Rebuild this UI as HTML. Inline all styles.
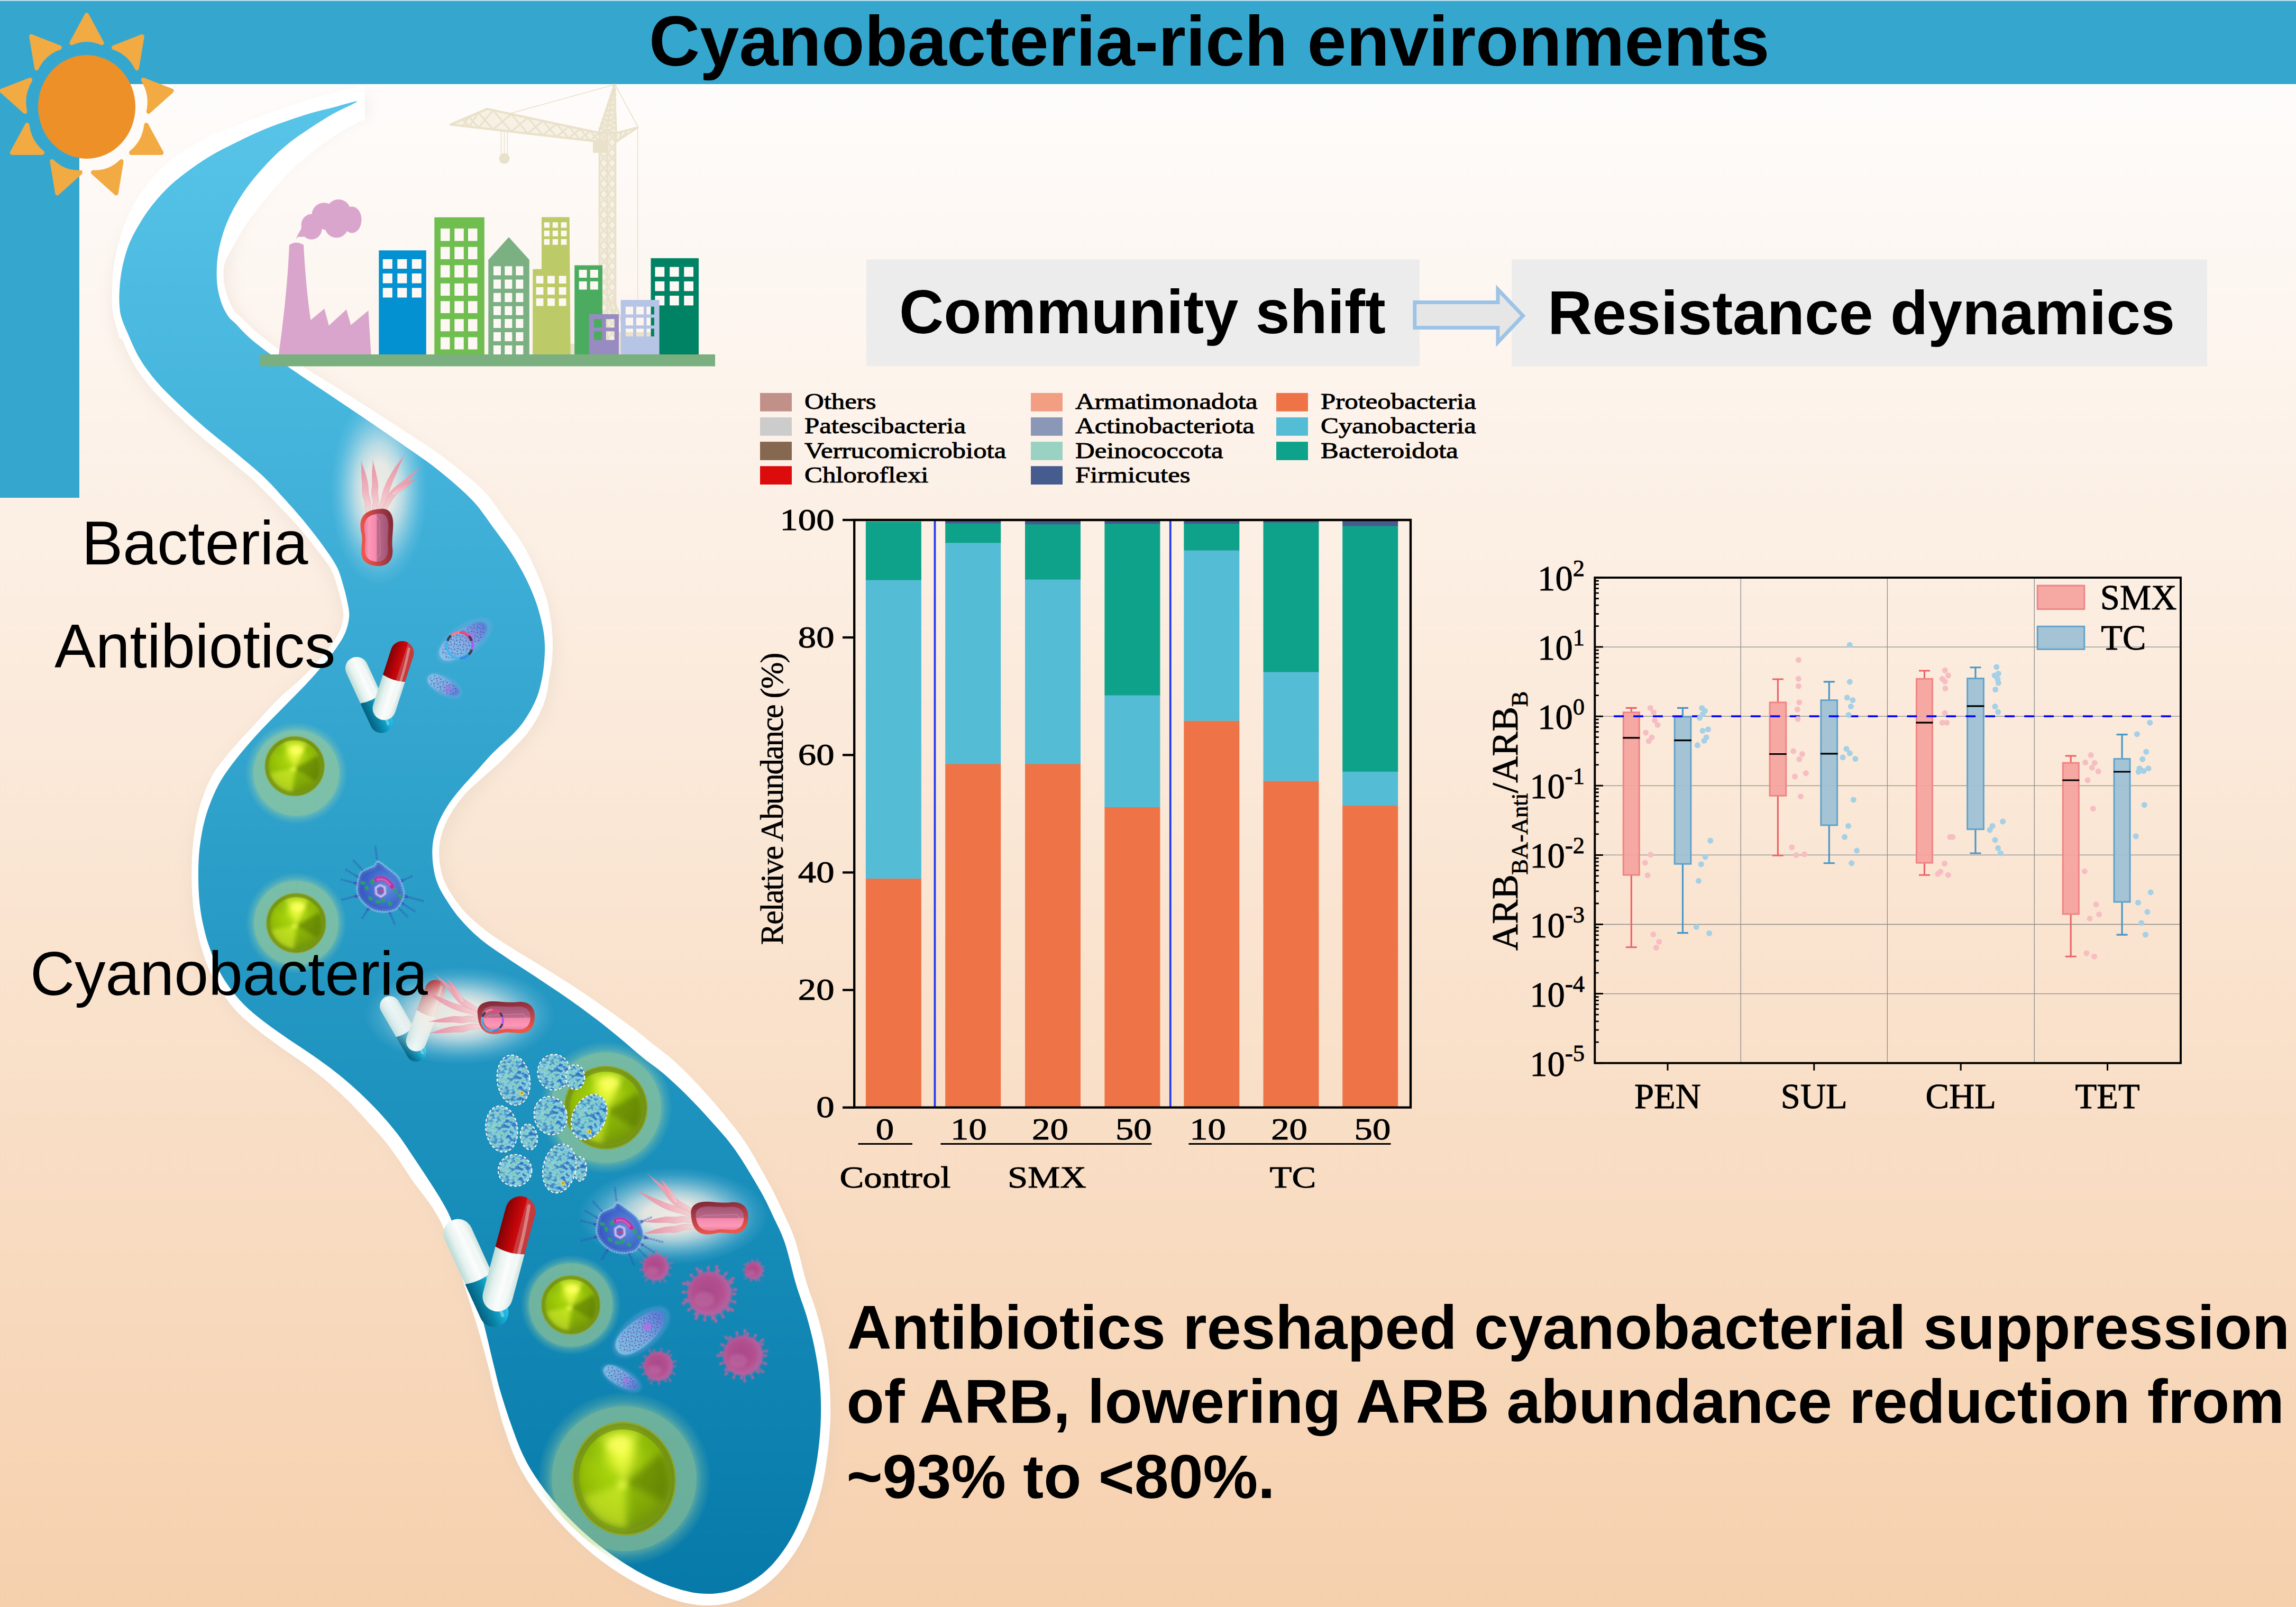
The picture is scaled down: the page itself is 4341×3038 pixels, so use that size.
<!DOCTYPE html>
<html><head><meta charset="utf-8"><title>Cyanobacteria-rich environments</title>
<style>
html,body{margin:0;padding:0;background:#fff;overflow:hidden}
svg{display:block}
.sb{font-family:"Liberation Sans",sans-serif;font-weight:bold;fill:#000}
.sr{font-family:"Liberation Sans",sans-serif;fill:#000}
.se{font-family:"Liberation Serif",serif;fill:#000}
</style></head><body>
<svg width="4341" height="3038" viewBox="0 0 4341 3038">
<defs>
<linearGradient id="bg" x1="0" y1="0" x2="0" y2="1"><stop offset="0" stop-color="#FEFCFB"/><stop offset="1" stop-color="#F6D0AD"/></linearGradient>
<linearGradient id="riv" gradientUnits="userSpaceOnUse" x1="0" y1="190" x2="0" y2="3020"><stop offset="0" stop-color="#58C4E8"/><stop offset="0.25" stop-color="#42B2DA"/><stop offset="0.5" stop-color="#2C9FC9"/><stop offset="0.75" stop-color="#168CB9"/><stop offset="1" stop-color="#0679A8"/></linearGradient>
<filter id="rshadow" x="-5%" y="-5%" width="110%" height="110%"><feGaussianBlur stdDeviation="14"/></filter>

<path id="rivp" d="M675.3,191.8C675.3,189.6 643.4,199.6 626.5,204C609.6,208.4 595.3,211.2 574.2,218C553.1,224.8 523.5,234.8 500,244.5C476.5,254.2 451.4,266.8 433,276C414.6,285.2 404,290.9 389.5,300C375,309.1 358.7,320.8 346,330.6C333.3,340.4 323.5,348.8 313.3,359C303.1,369.2 293.4,380.7 285,391.6C276.6,402.5 269.7,413.3 263.2,424.2C256.7,435.1 250.5,446.1 245.8,457C241.1,467.9 237.9,478.7 235,489.5C232.1,500.3 230,511.1 228.4,522C226.8,532.9 226,545.2 225.6,555C225.2,564.8 225.5,573.5 226.2,581C226.8,588.5 227.3,592.5 229.5,600C231.7,607.5 233.8,612.8 239.6,625.7C245.3,638.6 254.3,661.3 264,677.6C273.7,693.9 284.4,708.1 297.6,723.3C310.8,738.5 327.1,753.8 343.3,769C359.6,784.2 378.3,800.6 395.1,814.8C411.9,829 427.2,840.5 443.9,854.4C460.5,868.3 479.8,883.7 495,898C510.2,912.3 522.2,926 535,940C547.8,954 559.8,967.3 572,982C584.2,996.7 597.3,1013.3 608,1028C618.7,1042.7 629.3,1057.5 636,1070C642.7,1082.5 644.5,1091.5 648,1103C651.5,1114.5 655,1128.4 657,1139C659,1149.6 660.9,1156.9 660.1,1166.6C659.3,1176.3 656.7,1186.9 652.4,1197.1C648.1,1207.3 641.2,1217.4 634.1,1227.6C627,1237.8 619,1247.3 610,1258C601,1268.7 592.2,1279 580,1292C567.8,1305 551.7,1321 537,1336C522.3,1351 506.2,1366.7 492,1382C477.8,1397.3 464.3,1412.5 452,1428C439.7,1443.5 427.2,1459.5 418,1475C408.8,1490.5 402.2,1506.3 396.5,1521C390.8,1535.7 387.2,1548.7 384,1563C380.8,1577.3 378.5,1593 377,1607C375.5,1621 375.2,1633.2 375,1647C374.8,1660.8 375.2,1676.7 376,1690C376.8,1703.3 378.2,1715.3 380,1727C381.8,1738.7 384.5,1750.1 386.9,1760C389.3,1769.9 390.7,1775.6 394.5,1786.6C398.3,1797.6 403.7,1813.5 409.8,1826.2C415.9,1838.9 422.5,1850.6 431.1,1862.8C439.7,1875 449.9,1887.7 461.6,1899.4C473.3,1911.1 487.5,1922.2 501.2,1932.9C514.9,1943.6 529.2,1953.2 543.9,1963.4C558.6,1973.6 574.4,1983.2 589.6,1993.9C604.9,2004.6 620.7,2015.7 635.4,2027.4C650.1,2039.1 664.3,2051.3 678,2064C691.7,2076.7 705.5,2090.5 717.7,2103.7C729.9,2116.9 741,2130.1 751.2,2143.3C761.4,2156.5 770.1,2170.2 778.7,2182.9C787.3,2195.6 794.1,2205.8 803,2219.5C811.9,2233.2 823.8,2251.1 832,2265C840.2,2278.9 845.3,2287.2 852,2303C858.7,2318.8 866.2,2343 872,2360C877.8,2377 882.3,2390 887,2405C891.7,2420 895.2,2432.8 900,2450C904.8,2467.2 910.4,2486.2 916,2508C921.6,2529.8 928.5,2560.7 933.5,2581C938.5,2601.3 940.6,2611.5 946,2630C951.4,2648.5 958.7,2671.5 966,2692C973.3,2712.5 981,2734.5 990,2753C999,2771.5 1008.3,2786.3 1020,2803C1031.7,2819.7 1045.8,2837.2 1060,2853C1074.2,2868.8 1089.2,2883.8 1105,2898C1120.8,2912.2 1137.5,2925.5 1155,2938C1172.5,2950.5 1191.7,2963 1210,2973C1228.3,2983 1246.7,2991.5 1265,2998C1283.3,3004.5 1302.5,3010 1320,3012C1337.5,3014 1354.2,3013.2 1370,3010C1385.8,3006.8 1400.8,3000.8 1415,2993C1429.2,2985.2 1442.5,2975.5 1455,2963C1467.5,2950.5 1480,2933.8 1490,2918C1500,2902.2 1507.5,2886.3 1515,2868C1522.5,2849.7 1529.7,2828.8 1535,2808C1540.3,2787.2 1544.2,2764.7 1547,2743C1549.8,2721.3 1551.5,2699.7 1552,2678C1552.5,2656.3 1552,2634.7 1550,2613C1548,2591.3 1544.2,2568.8 1540,2548C1535.8,2527.2 1530.8,2508 1525,2488C1519.2,2468 1511.8,2451 1505,2428C1498.2,2405 1491.2,2371.3 1484,2350C1476.8,2328.7 1469.8,2316.7 1462,2300C1454.2,2283.3 1449,2271 1437,2250C1425,2229 1405.3,2195.7 1390,2174C1374.7,2152.3 1360,2137 1345,2120C1330,2103 1315,2087 1300,2072C1285,2057 1269,2042 1255,2030C1241,2018 1229.3,2010.8 1216,2000C1202.7,1989.2 1190.2,1977.5 1175,1965C1159.8,1952.5 1142.5,1938.3 1125,1925C1107.5,1911.7 1088.3,1897.8 1070,1885C1051.7,1872.2 1033.3,1860.2 1015,1848C996.7,1835.8 977.8,1824.2 960,1812C942.2,1799.8 923.3,1787.8 908,1775C892.7,1762.2 879.3,1748.3 868,1735C856.7,1721.7 847.2,1706.8 840,1695C832.8,1683.2 828.6,1674.9 825,1664C821.4,1653.1 819.3,1641 818.2,1629.5C817.1,1618 816.8,1606.4 818.2,1595C819.6,1583.6 822.5,1572.4 826.8,1561C831.1,1549.6 836.9,1538.1 844,1526.7C851.1,1515.3 860.2,1503.9 869.6,1492.5C879,1481.1 890.1,1469.6 900.4,1458.2C910.7,1446.8 921.2,1434.2 931.2,1424C941.2,1413.8 951.6,1405.5 960.3,1397C969,1388.5 976,1382 983.2,1373C990.4,1364 997.7,1352.6 1003.3,1342.7C1008.9,1332.8 1013.1,1324 1016.8,1313.6C1020.4,1303.1 1023.2,1290.6 1025.2,1280C1027.2,1269.4 1028.2,1260.2 1029,1250C1029.8,1239.8 1030.5,1229.3 1030,1218.5C1029.5,1207.7 1028.7,1198.1 1026,1185C1023.3,1171.9 1019.3,1155.3 1014,1140C1008.7,1124.7 1002,1109 994,1093C986,1077 976.2,1059.8 966,1044C955.8,1028.2 944.5,1013.7 933,998C921.5,982.3 910.5,965 897,950C883.5,935 866.8,920.8 852,908C837.2,895.2 825.2,885.7 808,873C790.8,860.3 769,845.8 749,832C729,818.2 708.3,803.8 688,790C667.7,776.2 647.3,762.7 627,749C606.7,735.3 583.8,720.2 566,708C548.2,695.8 535.3,687.2 520,676C504.7,664.8 487.1,651.9 474.4,641C461.7,630.1 450.9,617.3 444,610.5C437.1,603.7 436.7,604.9 433,600C429.3,595.1 425.1,587.8 422,581C418.9,574.2 416.6,567 414.6,559C412.6,551 410.9,542.8 410.2,533C409.5,523.2 409.5,510.8 410.2,500C410.9,489.2 412.2,479.2 414.6,468C417,456.8 420.6,443.9 424.4,433C428.2,422.1 432.4,412.6 437.5,402.4C442.6,392.2 448.5,382.1 455,372C461.5,361.9 467.6,352.8 476.7,341.5C485.8,330.2 498.4,315.6 509.3,304.4C520.2,293.1 531.1,283.1 542,274C552.9,264.9 560.6,259.5 574.7,250C588.8,240.5 609.7,226.7 626.5,217C643.3,207.3 675.3,194 675.3,191.8Z"/>
<clipPath id="cRiv"><use href="#rivp"/></clipPath>
<clipPath id="cRivW"><use href="#rivp" transform="translate(-8,3)"/><use href="#rivp" transform="translate(8,-3)"/><use href="#rivp" transform="translate(-5,-7)"/><use href="#rivp" transform="translate(5,7)"/></clipPath>

<radialGradient id="gSph" cx="0.5" cy="0.42" r="0.62" fx="0.52" fy="0.22">
 <stop offset="0" stop-color="#F2FF4A"/><stop offset="0.16" stop-color="#CDEB22"/><stop offset="0.42" stop-color="#9CCB0C"/><stop offset="0.75" stop-color="#86B008"/><stop offset="1" stop-color="#6E9010"/>
</radialGradient>
<radialGradient id="gHalo" cx="0.5" cy="0.5" r="0.5">
 <stop offset="0" stop-color="#BFDA8B" stop-opacity="0.53"/><stop offset="0.825" stop-color="#BFDA8B" stop-opacity="0.53"/><stop offset="0.84" stop-color="#BEDE98" stop-opacity="0.38"/><stop offset="0.9" stop-color="#BCDE9C" stop-opacity="0.2"/><stop offset="1" stop-color="#BCDE9C" stop-opacity="0"/>
</radialGradient>
<radialGradient id="gGlow" cx="0.5" cy="0.5" r="0.5">
 <stop offset="0" stop-color="#F4EDE4" stop-opacity="0.97"/><stop offset="0.3" stop-color="#F2ECE4" stop-opacity="0.93"/><stop offset="0.5" stop-color="#E6EBE8" stop-opacity="0.7"/><stop offset="0.7" stop-color="#D2E6EA" stop-opacity="0.38"/><stop offset="0.86" stop-color="#C0E2EE" stop-opacity="0.14"/><stop offset="1" stop-color="#C0E2EE" stop-opacity="0"/>
</radialGradient>
<linearGradient id="gCapW" x1="0" y1="0" x2="1" y2="0">
 <stop offset="0" stop-color="#B9DAD5"/><stop offset="0.25" stop-color="#E4F1EE"/><stop offset="0.55" stop-color="#FBFDFC"/><stop offset="0.85" stop-color="#E9F3F1"/><stop offset="1" stop-color="#CFE3DF"/>
</linearGradient>
<linearGradient id="gCapB" x1="0" y1="0" x2="1" y2="0">
 <stop offset="0" stop-color="#04607F"/><stop offset="0.4" stop-color="#0A86AA"/><stop offset="0.8" stop-color="#18B4DC"/><stop offset="1" stop-color="#22C8F0"/>
</linearGradient>
<linearGradient id="gCapR" x1="0" y1="0" x2="1" y2="0">
 <stop offset="0" stop-color="#7E0205"/><stop offset="0.35" stop-color="#B40408"/><stop offset="0.6" stop-color="#CC0A0E"/><stop offset="0.62" stop-color="#C83C3E"/><stop offset="1" stop-color="#C43A3C"/>
</linearGradient>
<linearGradient id="gBacIn" x1="0" y1="0" x2="0" y2="1">
 <stop offset="0" stop-color="#A25476"/><stop offset="0.46" stop-color="#BA6A8A"/><stop offset="0.5" stop-color="#F488AC"/><stop offset="0.8" stop-color="#FC98B8"/><stop offset="1" stop-color="#E87A9A"/>
</linearGradient>
<linearGradient id="gBacOut" x1="0" y1="0" x2="0.22" y2="1">
 <stop offset="0" stop-color="#7A2636"/><stop offset="0.45" stop-color="#AC3C46"/><stop offset="1" stop-color="#EE5648"/>
</linearGradient>
<linearGradient id="gFlag" x1="0" y1="0" x2="1" y2="0">
 <stop offset="0" stop-color="#E8869C"/><stop offset="0.55" stop-color="#F0AEBA"/><stop offset="1" stop-color="#F6D4D6" stop-opacity="0.85"/>
</linearGradient>
<radialGradient id="gVir" cx="0.45" cy="0.45" r="0.55">
 <stop offset="0" stop-color="#A9478A"/><stop offset="0.6" stop-color="#B2508F"/><stop offset="0.9" stop-color="#B860A0"/><stop offset="1" stop-color="#B860A0" stop-opacity="0.7"/>
</radialGradient>
<radialGradient id="gSpk" cx="0.62" cy="0.5" r="0.62">
 <stop offset="0" stop-color="#5E92DC"/><stop offset="0.45" stop-color="#4672D0"/><stop offset="1" stop-color="#3450BC"/>
</radialGradient>
<linearGradient id="gPar" x1="0" y1="0" x2="1" y2="0">
 <stop offset="0" stop-color="#90CCEC"/><stop offset="0.55" stop-color="#84B2E4"/><stop offset="1" stop-color="#5E74D8"/>
</linearGradient>
<pattern id="pCell" patternUnits="userSpaceOnUse" width="14" height="14">
 <rect width="14" height="14" fill="#62B4CC"/>
 <path d="M0,3 q2,-3 4,0 t4,0 M7,9 q2,3 4,0 M1,11 q1.5,-2 3,0 M9,2 l3,2 M3,6 l3,2" stroke="#2F78BE" stroke-width="1.6" fill="none"/>
 <path d="M5,1 l2,2 M10,6 q1.5,2 3,0 M0,8 l3,1 M6,12 l3,1 M11,11 l2,-2" stroke="#8FD6E8" stroke-width="1.5" fill="none"/>
 <path d="M2,1 l1,1 M8,5 l2,0 M4,9 l1,2 M12,13 l1,0" stroke="#7CC8A8" stroke-width="1.6" fill="none"/>
</pattern>
<pattern id="pDots" patternUnits="userSpaceOnUse" width="15" height="12">
 <rect x="1" y="1.5" width="2.6" height="2.4" fill="#5E34A6"/><rect x="7.5" y="4.5" width="3.2" height="2.2" fill="#6C38AC"/><rect x="3.5" y="8" width="2.2" height="2.2" fill="#5638A4"/><rect x="11.5" y="0.5" width="2" height="2" fill="#7444B4"/><rect x="11" y="8.5" width="2.4" height="1.8" fill="#6236A8"/>
</pattern>
<filter id="fCell" x="-2%" y="-2%" width="104%" height="104%" color-interpolation-filters="sRGB">
 <feTurbulence type="fractalNoise" baseFrequency="0.11 0.15" numOctaves="2" seed="7" result="n"/>
 <feColorMatrix in="n" type="matrix" values="1 0 0 0 0  1 0 0 0 0  1 0 0 0 0  0 0 0 0 1" result="g"/>
 <feComponentTransfer in="g" result="c">
  <feFuncR type="table" tableValues="0.18 0.18 0.18 0.20 0.33 0.58 0.50 0.45 0.45 0.45"/>
  <feFuncG type="table" tableValues="0.43 0.43 0.43 0.47 0.64 0.84 0.78 0.75 0.75 0.75"/>
  <feFuncB type="table" tableValues="0.73 0.73 0.73 0.75 0.83 0.92 0.72 0.66 0.66 0.66"/>
 </feComponentTransfer>
 <feComposite in="c" in2="SourceGraphic" operator="in"/>
</filter>
<filter id="fB08" x="-20%" y="-20%" width="140%" height="140%"><feGaussianBlur stdDeviation="0.8"/></filter>
<filter id="fB1" x="-20%" y="-20%" width="140%" height="140%"><feGaussianBlur stdDeviation="1.1"/></filter>
<filter id="fBv" x="-20%" y="-20%" width="140%" height="140%"><feGaussianBlur stdDeviation="1.7"/></filter>
<filter id="fB2" x="-20%" y="-20%" width="140%" height="140%"><feGaussianBlur stdDeviation="2.2"/></filter>
<filter id="fB4" x="-30%" y="-30%" width="160%" height="160%"><feGaussianBlur stdDeviation="5"/></filter>
<filter id="fBu" x="-30%" y="-30%" width="160%" height="160%"><feGaussianBlur stdDeviation="0.07"/></filter>
<filter id="fBu2" x="-50%" y="-50%" width="200%" height="200%"><feGaussianBlur stdDeviation="0.06"/></filter>
<clipPath id="cUnit"><circle cx="0" cy="0" r="1"/></clipPath>

<pattern id="lat" patternUnits="userSpaceOnUse" x="1134" y="250" width="31" height="19.5">
<rect width="31" height="19.5" fill="#F6F1E4"/>
<path d="M0,0 L15.5,19.5 M15.5,0 L0,19.5 M15.5,0 L31,19.5 M31,0 L15.5,19.5" stroke="#E9E1CA" stroke-width="3.4" fill="none"/>
<path d="M0,9.75 H31" stroke="#EFE9D8" stroke-width="1.5"/>
</pattern>
<pattern id="lat2" patternUnits="userSpaceOnUse" x="0" y="0" width="22" height="60">
<rect width="22" height="60" fill="#F6F1E4"/>
<path d="M0,0 L22,60 M22,0 L0,60" stroke="#E9E1CA" stroke-width="4.5" fill="none"/>
</pattern>
</defs>
<rect x="0" y="0" width="4341" height="3038" fill="url(#bg)"/>
<rect x="0" y="158" width="4341" height="2880" fill="url(#bg)"/>
<rect x="0" y="0" width="4341" height="159" fill="#35A7CF"/>
<rect x="0" y="0" width="150" height="941" fill="#35A7CF"/>
<rect x="0" y="0" width="4341" height="1.6" fill="#fff" opacity="0.8"/>
<use href="#rivp" fill="#d8c8b8" stroke="#d8c8b8" stroke-width="40" stroke-linejoin="round" opacity="0.28" filter="url(#rshadow)" transform="translate(4,8)"/>
<path d="M687.3,191.8C685.8,186 643,189.9 623.5,192.4C604,194.8 591.9,199.7 570.5,206.6C549.2,213.4 519.3,223.6 495.4,233.4C471.6,243.2 446.3,255.9 427.6,265.2C408.9,274.6 397.9,280.4 383.1,289.7C368.2,299 351.7,311 338.6,321.1C325.6,331.2 315.3,340 304.8,350.5C294.3,361 284.1,373 275.5,384.3C266.8,395.5 259.7,406.7 252.8,418C245.9,429.3 239.2,440.6 234.2,452C229.1,463.3 225.6,474.8 222.5,486.1C219.3,497.5 217.2,508.8 215.5,520.2C213.9,531.5 213,544.2 212.6,554.5C212.2,564.8 212.5,573.9 213.2,582.1C214,590.3 214.6,595.6 217,603.7C219.4,611.9 221.9,617.5 227.7,631C233.5,644.5 242.2,667.7 252,684.8C261.7,701.8 272.9,717.1 286.3,733.1C299.7,749.1 316,764.9 332.4,780.7C348.7,796.4 367.3,813.3 384.1,827.8C400.9,842.2 416.5,853.7 433,867.5C449.6,881.2 468.3,896.5 483.4,910.4C498.4,924.3 510.2,937.4 523.2,950.8C536.2,964.2 548.8,976.8 561.2,990.9C573.6,1005.1 586.6,1021.6 597.5,1035.6C608.3,1049.7 619.6,1063.4 626.3,1075.2C633,1086.9 634.4,1095.1 637.8,1106.1C641.3,1117 645.1,1130.9 647.2,1140.9C649.2,1150.8 650.8,1157.1 650.1,1165.8C649.5,1174.5 647.2,1183.8 643.2,1193.2C639.1,1202.5 632.8,1212.3 625.9,1221.9C618.9,1231.5 610.7,1240.6 601.5,1250.8C592.2,1261 583.3,1270.9 570.5,1283.1C557.7,1295.3 539.8,1309.4 524.9,1324.1C509.9,1338.9 495.2,1356.2 480.9,1371.7C466.6,1387.3 452,1401.9 438.9,1417.6C425.8,1433.2 412.1,1449.5 402.5,1465.8C393,1482.1 386.9,1499.5 381.6,1515.2C376.3,1530.9 373.6,1544.9 370.8,1560C368.1,1575.1 366.3,1591.2 365.1,1605.7C363.8,1620.2 363.5,1632.7 363.4,1646.9C363.3,1661 363.6,1677.1 364.4,1690.7C365.2,1704.4 366.4,1716.8 368.1,1728.8C369.9,1740.9 372.5,1752.6 374.8,1763C377,1773.3 378.2,1779.4 381.7,1791C385.3,1802.6 390.2,1819.2 396.3,1832.7C402.3,1846.2 409.3,1858.8 418,1872C426.8,1885.3 437,1899.5 448.9,1912.1C460.8,1924.8 475.6,1936.6 489.5,1947.9C503.5,1959.2 517.9,1969.3 532.5,1979.9C547.2,1990.4 562.8,2000.2 577.6,2011.1C592.3,2022 607.2,2033.6 621.1,2045.4C635,2057.3 648.2,2069.6 661,2082.3C673.8,2095.1 686.3,2109.2 697.9,2122C709.5,2134.8 720.6,2146.7 730.6,2159.2C740.6,2171.7 749.5,2184.6 758,2197C766.6,2209.3 772.7,2220 782,2233.1C791.3,2246.2 805.1,2262.8 813.9,2275.6C822.6,2288.5 827.4,2295.4 834.5,2310.4C841.6,2325.3 850.2,2348.8 856.6,2365.3C863,2381.8 867.7,2394.7 872.7,2409.5C877.7,2424.2 881.2,2436.9 886.5,2453.8C891.8,2470.7 898.1,2489.4 904.4,2511C910.7,2532.6 919,2562.9 924.3,2583.3C929.5,2603.6 931.1,2614.1 935.9,2633C940.8,2651.8 946.5,2675.4 953.3,2696.5C960.1,2717.6 967.6,2740.3 976.5,2759.6C985.4,2778.8 995.1,2794.7 1006.9,2812.2C1018.7,2829.6 1033,2847.8 1047.3,2864.3C1061.6,2880.9 1076.8,2896.7 1092.8,2911.7C1108.8,2926.7 1125.4,2941.1 1143.4,2954.3C1161.3,2967.4 1181.3,2980 1200.4,2990.6C1219.5,3001.1 1238.5,3010.7 1258,3017.7C1277.5,3024.8 1298.3,3030.7 1317.6,3032.9C1337,3035 1356.3,3034.3 1374.1,3030.6C1392,3026.9 1409,3019.6 1424.7,3010.6C1440.5,3001.6 1454.9,2990.2 1468.5,2976.5C1482,2962.7 1495.4,2945 1506.1,2928.1C1516.7,2911.3 1524.8,2894.5 1532.6,2875.2C1540.3,2855.9 1547.4,2834.2 1552.7,2812.5C1557.9,2790.9 1561.2,2767.6 1563.9,2745.2C1566.6,2722.9 1568.5,2700.7 1569,2678.4C1569.5,2656.1 1568.8,2633.8 1567.1,2611.4C1565.3,2589.1 1562.5,2565.7 1558.5,2544.3C1554.6,2522.8 1549.1,2503 1543.2,2482.7C1537.4,2462.4 1530.1,2445.7 1523.2,2422.6C1516.4,2399.5 1509.3,2365.8 1502,2343.9C1494.8,2322.1 1487.6,2309 1479.7,2291.7C1471.7,2274.4 1466.2,2261.9 1454.4,2240.1C1442.5,2218.2 1423.8,2183.6 1408.8,2160.7C1393.8,2137.9 1379.1,2121 1364.3,2103C1349.5,2084.9 1334.8,2068.2 1319.8,2052.2C1304.8,2036.2 1288.6,2019.9 1274.6,2007.2C1260.5,1994.5 1249,1986.7 1235.5,1975.9C1222.1,1965.1 1209.4,1954.4 1193.6,1942.4C1177.8,1930.5 1159.1,1917.1 1140.8,1904.3C1122.4,1891.5 1102.6,1877.9 1083.7,1865.4C1064.8,1853 1045.9,1841.3 1027.2,1829.7C1008.4,1818 989.1,1807.1 971.2,1795.7C953.2,1784.2 934.9,1772.9 919.6,1761.2C904.2,1749.5 890.4,1737.8 879,1725.7C867.6,1713.5 858.1,1699.2 851.1,1688.3C844.1,1677.3 840.3,1670.1 836.8,1660.1C833.3,1650.1 831.3,1638.9 830.1,1628.3C829,1617.7 828.8,1607 830.1,1596.5C831.4,1586 834,1575.8 838,1565.2C842,1554.7 847.4,1543.9 854.2,1533.1C861,1522.2 869.2,1510.8 878.9,1500.1C888.5,1489.4 901.1,1479.1 912.3,1468.9C923.5,1458.7 936,1448.4 946.2,1438.7C956.4,1429 965.1,1419.7 973.6,1410.6C982.1,1401.5 989.9,1394.1 997.3,1384.2C1004.7,1374.3 1012.5,1362 1018.1,1351.1C1023.7,1340.1 1027.7,1330 1031,1318.5C1034.2,1307.1 1035.6,1293.6 1037.5,1282.4C1039.4,1271.1 1041.4,1261.8 1042.5,1251.1C1043.6,1240.3 1044.1,1229.4 1044,1217.9C1043.8,1206.3 1043.5,1195.9 1041.6,1181.8C1039.8,1167.7 1037.5,1149.9 1032.9,1133.4C1028.3,1117 1021.4,1100.3 1013.9,1083C1006.4,1065.8 997.8,1046.7 987.9,1030C977.9,1013.2 966,998.8 954.2,982.5C942.4,966.1 931.4,947.5 917.1,931.9C902.8,916.4 884.2,902.1 868.4,889.1C852.6,876 840.1,866.2 822.2,853.7C804.4,841.2 782,827.2 761.5,813.9C741,800.6 719.9,786.9 699.1,773.6C678.4,760.3 657.8,747.1 637,734.1C616.3,721 592.7,706.9 574.8,695.1C556.8,683.3 544.3,674.3 529.3,663.3C514.3,652.2 497.3,639.4 484.8,628.9C472.3,618.4 461.1,606.3 454.3,600.1C447.5,593.9 447.5,595.8 444.2,591.6C441,587.5 437.5,581.2 434.8,575.3C432,569.3 429.8,563 427.7,555.8C425.6,548.6 423.1,541.3 422.2,532.1C421.3,522.9 421.5,511.1 422.2,500.8C423,490.6 424.3,481.2 426.6,470.5C428.9,459.9 432.5,447.5 436.2,437.1C439.8,426.7 443.7,417.7 448.6,407.9C453.4,398.2 458.9,388.4 465.2,378.6C471.4,368.7 477.3,360 486.1,349C494.9,338.1 507.3,323.7 517.9,312.7C528.5,301.8 539.1,292 549.7,283.2C560.3,274.4 567.6,269.3 581.4,260C595.2,250.6 614.9,238.7 632.5,227.4C650.2,216 688.8,197.6 687.3,191.8Z" fill="#fff" stroke="#fff" stroke-width="2" stroke-linejoin="round"/>
<path d="M690,161C678.3,163.8 641.7,172.2 620,178C598.3,183.8 580,189.5 560,196C540,202.5 518.3,210.3 500,217C481.7,223.7 464.8,230.5 450,236C435.2,241.5 424.7,243.8 411,250C397.3,256.2 382.5,264.3 368,273C353.5,281.7 336.7,292.2 324,302C311.3,311.8 302.8,319.7 292,332C281.2,344.3 268.2,361.3 259,376C249.8,390.7 243.2,404.7 237,420C230.8,435.3 225.8,452.8 222,468C218.2,483.2 215.5,496.5 214,511C212.5,525.5 212.7,540.2 213,555C213.3,569.8 213.8,585.8 216,600C218.2,614.2 224.3,633.3 226,640 L452,640 C450.3,633.3 445.2,609.5 442,600C438.8,590.5 435.9,589.8 433,583C430.1,576.2 426.4,567.3 424.4,559C422.4,550.7 421,542.8 421,533C421,523.2 421.3,510.8 424.4,500C427.5,489.2 432.7,480.7 439.6,468C446.5,455.3 456,438.5 465.8,424C475.6,409.5 485.7,396.5 498.4,381C511.1,365.5 527.5,346 542,331C556.5,316 569.2,304.2 585.5,291C601.8,277.8 622.6,263 640,252C657.4,241 681.7,229.5 690,225 Z" fill="#fff"/>
<use href="#rivp" fill="url(#riv)"/>
<g>
<g clip-path="url(#cRiv)"><ellipse transform="translate(711.3,1014) rotate(90)" cx="-86" cy="-5" rx="180" ry="92" fill="url(#gGlow)"/></g>
<g transform="translate(711.3,1014) rotate(90)">
<path d="M-44.2,-12.9C-46.1,-15.8 -54.5,-21.2 -59.3,-24.6C-64,-27.9 -68.4,-30 -72.6,-32.9C-76.7,-35.8 -79.3,-37.6 -84.1,-41.9C-88.9,-46.1 -93.5,-51.9 -101.3,-58.6C-109.1,-65.3 -126.1,-78.1 -131,-82C-135.9,-85.9 -135.1,-86.8 -131,-82C-126.9,-77.2 -113.2,-61.4 -106.7,-53.4C-100.2,-45.4 -96.4,-39.2 -91.9,-34.1C-87.3,-29.1 -83.9,-26.2 -79.4,-23.1C-74.9,-20 -70,-18.1 -64.7,-15.4C-59.5,-12.8 -51.3,-7.5 -47.8,-7.1C-44.4,-6.7 -42.3,-10 -44.2,-12.9Z" fill="url(#gFlag)" fill-opacity="0.92" stroke="#DE8CA0" stroke-opacity="0.45" stroke-width="0.8"/>
<path d="M-77.9,-33.5C-78.6,-36.5 -83.5,-44.1 -86.4,-48.5C-89.2,-52.9 -91.2,-55.8 -94.8,-60C-98.4,-64.3 -105.8,-71.7 -108,-74C-110.2,-76.3 -109.1,-77 -108,-74C-106.9,-71 -103.6,-61 -101.2,-56C-98.8,-50.9 -96.8,-47.7 -93.6,-43.5C-90.5,-39.2 -84.7,-32.2 -82.1,-30.5C-79.5,-28.8 -77.2,-30.5 -77.9,-33.5Z" fill="url(#gFlag)" fill-opacity="0.92" stroke="#DE8CA0" stroke-opacity="0.45" stroke-width="0.8"/>
<path d="M-46.8,-8.9C-49.7,-11.5 -60.2,-16.1 -66.4,-18.6C-72.7,-21.2 -78.3,-22.2 -84.3,-24.2C-90.2,-26.2 -95.3,-27.9 -101.9,-30.6C-108.6,-33.2 -116,-36.4 -124.4,-40C-132.7,-43.6 -147.4,-50 -152,-52C-156.6,-54 -156.1,-55 -152,-52C-147.9,-49 -135.3,-39.1 -127.6,-34C-120,-28.9 -112.7,-24.8 -106.1,-21.4C-99.4,-18.1 -93.8,-15.8 -87.7,-13.8C-81.7,-11.8 -76,-11.2 -69.6,-9.4C-63.2,-7.6 -53,-3.1 -49.2,-3.1C-45.4,-3 -44,-6.3 -46.8,-8.9Z" fill="url(#gFlag)" fill-opacity="0.92" stroke="#DE8CA0" stroke-opacity="0.45" stroke-width="0.8"/>
<path d="M-47.4,0.6C-50.3,-1.4 -60.1,-3.7 -65.8,-4.3C-71.6,-4.9 -76.8,-3.1 -82.2,-3C-87.6,-2.9 -92.1,-4 -98.2,-3.5C-104.2,-2.9 -111.2,-1.3 -118.3,0.3C-125.5,1.9 -137.2,5 -141,6C-144.8,7 -144.9,5.7 -141,6C-137.1,6.3 -124.8,7.5 -117.7,7.7C-110.5,8 -103.8,7.3 -97.8,7.5C-91.9,7.7 -87.1,9.2 -81.8,9C-76.5,8.8 -71.7,6.6 -66.2,6.3C-60.6,6.1 -51.7,8.4 -48.6,7.4C-45.4,6.4 -44.6,2.6 -47.4,0.6Z" fill="url(#gFlag)" fill-opacity="0.92" stroke="#DE8CA0" stroke-opacity="0.45" stroke-width="0.8"/>
<path d="M-46,12.5C-49.1,11.1 -58.8,10.5 -64.6,10.7C-70.4,11 -75.2,13.3 -80.9,14.1C-86.5,14.9 -92.3,14.5 -98.6,15.6C-104.9,16.6 -111.7,18.2 -118.6,20.3C-125.5,22.4 -136.4,26.7 -140,28C-143.6,29.3 -143.8,28.1 -140,28C-136.2,27.9 -124.5,27.9 -117.4,27.7C-110.3,27.4 -103.8,26.7 -97.4,26.4C-91.1,26.1 -84.8,26.8 -79.1,25.9C-73.5,25.1 -68.9,22.4 -63.4,21.3C-57.9,20.2 -48.9,20.9 -46,19.5C-43.1,18 -42.9,14 -46,12.5Z" fill="url(#gFlag)" fill-opacity="0.92" stroke="#DE8CA0" stroke-opacity="0.45" stroke-width="0.8"/>
<path d="M-52,-8 C-54,-26 -40,-33 -20,-32 C0,-31 10,-29 25,-31 C45,-32 56,-22 56,-4 C56,14 48,28 30,28 C15,28 5,25 -8,28.5 C-30,33 -50,28 -52,-8 Z" fill="url(#gBacOut)"/>
<g transform="scale(0.84,0.74) translate(1,1)"><path d="M-52,-8 C-54,-26 -40,-33 -20,-32 C0,-31 10,-29 25,-31 C45,-32 56,-22 56,-4 C56,14 48,28 30,28 C15,28 5,25 -8,28.5 C-30,33 -50,28 -52,-8 Z" fill="url(#gBacIn)"/></g>
<path d="M-38,1 L-29,-6 L34,-8 L43,2" stroke="#DC90A8" stroke-opacity="0.55" stroke-width="1.4" fill="none"/>
</g>
<g transform="translate(674.4,1263.4) rotate(-24.8)" opacity="1.0">
<path d="M-21.5,63.2 V111 A21.5,21.5 0 0 0 21.5,111 V63.2 Z" fill="url(#gCapB)"/>
<path d="M-21.5,63.2 V0 A21.5,21.5 0 0 1 21.5,0 V63.2 Q0,69.2 -21.5,63.2 Z" fill="url(#gCapW)"/>
<path d="M9.7,-10.8 Q17.2,55.5 9.7,120.7" stroke="#fff" stroke-opacity="0.35" stroke-width="4.7" fill="none" stroke-linecap="round"/>
</g>
<g transform="translate(760.5,1234) rotate(17.9)" opacity="1.0">
<path d="M-22,50.7 V110.7 A22,22 0 0 0 22,110.7 V50.7 Z" fill="url(#gCapW)"/>
<path d="M-22,50.7 V0 A22,22 0 0 1 22,0 V50.7 Q0,56.8 -22,50.7 Z" fill="url(#gCapR)"/>
<path d="M9.9,-11 Q17.6,55.3 9.9,120.6" stroke="#fff" stroke-opacity="0.35" stroke-width="4.8" fill="none" stroke-linecap="round"/>
</g>
<g transform="translate(878,1211) rotate(-36)">
<ellipse cx="0" cy="0" rx="61.6" ry="28.6" fill="#8FA8E8" fill-opacity="0.28" filter="url(#fB2)"/>
<path d="M-55,0 C-55,-25.299999999999997 -11.0,-24.200000000000003 30.250000000000004,-17.6 C56.1,-12.100000000000001 57.75,7.699999999999999 33.0,16.5 C5.5,26.4 -55,24.200000000000003 -55,0 Z" fill="url(#gPar)" fill-opacity="0.8" filter="url(#fB1)"/>
<path d="M-55,0 C-55,-25.299999999999997 -11.0,-24.200000000000003 30.250000000000004,-17.6 C56.1,-12.100000000000001 57.75,7.699999999999999 33.0,16.5 C5.5,26.4 -55,24.200000000000003 -55,0 Z" fill="url(#pDots)" fill-opacity="0.85" transform="scale(0.9)"/>
<ellipse cx="13.8" cy="0" rx="8.8" ry="6.6" fill="#B070E8" fill-opacity="0.8" filter="url(#fB1)"/>
</g>
<path d="M853.3,1201.2 A24.5,24.5 0 0 1 869.0,1195.5" stroke="#F8788C" stroke-width="4.7" fill="none"/><path d="M869.0,1195.5 A24.5,24.5 0 0 1 886.3,1202.7" stroke="#F04678" stroke-width="4.7" fill="none"/><path d="M886.3,1202.7 A24.5,24.5 0 0 1 892.0,1211.6" stroke="#3C3C50" stroke-width="4.7" fill="none"/><path d="M892.0,1211.6 A24.5,24.5 0 0 1 892.0,1228.4" stroke="#AA5AF0" stroke-width="4.7" fill="none"/><path d="M892.0,1228.4 A24.5,24.5 0 0 1 886.3,1237.3" stroke="#3C3C50" stroke-width="4.7" fill="none"/><path d="M886.3,1237.3 A24.5,24.5 0 0 1 869.0,1244.5" stroke="#328CE6" stroke-width="4.7" fill="none"/><path d="M869.0,1244.5 A24.5,24.5 0 0 1 846.0,1211.6" stroke="#46B4F0" stroke-width="4.7" fill="none"/><path d="M846.0,1211.6 A24.5,24.5 0 0 1 852.6,1201.8" stroke="#3C3C50" stroke-width="4.7" fill="none"/>
<g transform="translate(839.5,1296.6) rotate(28)">
<ellipse cx="0" cy="0" rx="38.1" ry="18.9" fill="#8FA8E8" fill-opacity="0.28" filter="url(#fB2)"/>
<path d="M-34,0 C-34,-16.674999999999997 -6.800000000000001,-15.950000000000001 18.700000000000003,-11.600000000000001 C34.68,-7.9750000000000005 35.7,5.074999999999999 20.4,10.875 C3.4000000000000004,17.4 -34,15.950000000000001 -34,0 Z" fill="url(#gPar)" fill-opacity="0.8" filter="url(#fB1)"/>
<path d="M-34,0 C-34,-16.674999999999997 -6.800000000000001,-15.950000000000001 18.700000000000003,-11.600000000000001 C34.68,-7.9750000000000005 35.7,5.074999999999999 20.4,10.875 C3.4000000000000004,17.4 -34,15.950000000000001 -34,0 Z" fill="url(#pDots)" fill-opacity="0.85" transform="scale(0.9)"/>
<ellipse cx="8.5" cy="0" rx="5.4" ry="4.3" fill="#B070E8" fill-opacity="0.8" filter="url(#fB1)"/>
</g>
<circle cx="560.1" cy="1461.5" r="97" fill="url(#gHalo)" clip-path="url(#cRivW)"/>
<g transform="translate(557.1,1448.5) rotate(0) scale(56.3,56.3)">
<circle cx="0" cy="0" r="1" fill="#74941A"/>
<circle cx="0" cy="0" r="0.995" fill="none" stroke="#8CA82E" stroke-width="0.03"/>
<g clip-path="url(#cUnit)">
<circle cx="0" cy="0" r="0.87" fill="url(#gSph)"/>
<g filter="url(#fBu)">
<path d="M0,0.08 L0.788,-0.368 A0.87,0.87 0 0 1 0.713,0.499 Z" fill="#4E6A00" fill-opacity="0.55"/>
<path d="M0,0.08 L0.713,0.499 A0.87,0.87 0 0 1 0.151,0.857 Z" fill="#6A8A00" fill-opacity="0.25"/>
<path d="M0,0.08 L-0.076,0.867 A0.87,0.87 0 0 1 -0.840,0.225 Z" fill="#E8FF30" fill-opacity="0.5"/>
<path d="M0,0.08 L-0.840,0.225 A0.87,0.87 0 0 1 -0.713,-0.499 Z" fill="#B8E010" fill-opacity="0.25"/>
<path d="M0,0.08 L-0.368,-0.788 A0.87,0.87 0 0 1 0.408,-0.768 Z" fill="#F4FF50" fill-opacity="0.45"/>
<path d="M0,0.08 L0.408,-0.768 A0.87,0.87 0 0 1 0.788,-0.368 Z" fill="#86A808" fill-opacity="0.3"/>
</g>
<ellipse cx="0.05" cy="-0.55" rx="0.22" ry="0.14" fill="#FBFF60" fill-opacity="0.85" filter="url(#fBu2)"/>
<ellipse cx="-0.05" cy="0.1" rx="0.1" ry="0.07" fill="#F4FF50" fill-opacity="0.8" filter="url(#fBu2)"/>
<circle cx="0" cy="0" r="0.9" fill="none" stroke="#7C9C10" stroke-width="0.05" stroke-opacity="0.55"/>
</g></g>
<circle cx="560" cy="1745" r="95.6" fill="url(#gHalo)" clip-path="url(#cRivW)"/>
<g transform="translate(560,1745) rotate(0) scale(56.3,56.3)">
<circle cx="0" cy="0" r="1" fill="#74941A"/>
<circle cx="0" cy="0" r="0.995" fill="none" stroke="#8CA82E" stroke-width="0.03"/>
<g clip-path="url(#cUnit)">
<circle cx="0" cy="0" r="0.87" fill="url(#gSph)"/>
<g filter="url(#fBu)">
<path d="M0,0.08 L0.788,-0.368 A0.87,0.87 0 0 1 0.713,0.499 Z" fill="#4E6A00" fill-opacity="0.55"/>
<path d="M0,0.08 L0.713,0.499 A0.87,0.87 0 0 1 0.151,0.857 Z" fill="#6A8A00" fill-opacity="0.25"/>
<path d="M0,0.08 L-0.076,0.867 A0.87,0.87 0 0 1 -0.840,0.225 Z" fill="#E8FF30" fill-opacity="0.5"/>
<path d="M0,0.08 L-0.840,0.225 A0.87,0.87 0 0 1 -0.713,-0.499 Z" fill="#B8E010" fill-opacity="0.25"/>
<path d="M0,0.08 L-0.368,-0.788 A0.87,0.87 0 0 1 0.408,-0.768 Z" fill="#F4FF50" fill-opacity="0.45"/>
<path d="M0,0.08 L0.408,-0.768 A0.87,0.87 0 0 1 0.788,-0.368 Z" fill="#86A808" fill-opacity="0.3"/>
</g>
<ellipse cx="0.05" cy="-0.55" rx="0.22" ry="0.14" fill="#FBFF60" fill-opacity="0.85" filter="url(#fBu2)"/>
<ellipse cx="-0.05" cy="0.1" rx="0.1" ry="0.07" fill="#F4FF50" fill-opacity="0.8" filter="url(#fBu2)"/>
<circle cx="0" cy="0" r="0.9" fill="none" stroke="#7C9C10" stroke-width="0.05" stroke-opacity="0.55"/>
</g></g>
<g transform="translate(719.3,1682.2) scale(1.000)" filter="url(#fB08)">
<path d="M3.1,-34.6 L-6.7,-58.2 L-10.8,-33.0 Z M-17.8,-29.8 L-37.5,-40.9 L-28.1,-20.3 Z M-25.9,-23.1 L-48.4,-28.0 L-32.9,-11.0 Z M-31.1,-15.4 L-54.5,-14.4 L-34.7,-1.9 Z M-34.7,1.6 L-53.4,13.7 L-31.2,15.2 Z M-24.3,24.8 L-26.6,41.5 L-12.5,32.4 Z M6.6,34.1 L20.1,48.5 L19.5,28.7 Z M19.3,28.9 L38.1,37.7 L29.1,18.9 Z M25.2,23.9 L48.1,30.0 L32.6,12.0 Z M31.1,15.4 L57.2,14.9 L34.7,1.8 Z M34.0,-7.0 L46.6,-20.0 L28.5,-19.8 Z " fill="#3A4EB8"/>
<path d="M-6.7,-58.2 L-9.5,-82.7 M-37.5,-40.9 L-52.0,-56.7 M-48.4,-28.0 L-67.4,-39.0 M-54.5,-14.4 L-76.2,-20.1 M-53.4,13.7 L-73.9,18.9 M-26.6,41.5 L-34.9,54.4 M20.1,48.5 L27.2,65.6 M38.1,37.7 L52.0,51.4 M48.1,30.0 L67.4,42.0 M57.2,14.9 L81.6,21.3 M46.6,-20.0 L62.0,-26.6 " stroke="#3444B0" stroke-width="2.1" stroke-dasharray="3.4,2.2" fill="none"/>
<path d="M-4.7,-53.2C-0.6,-52.6 6.5,-46.5 13,-41.4C19.5,-36.3 29.1,-30.2 34.3,-22.5C39.5,-14.8 43.3,-2.6 44.3,4.7C45.3,12 42.5,16.2 40.2,21.3C37.9,26.4 34.6,32.2 30.7,35.5C26.8,38.8 21.4,39.8 16.5,40.8C11.6,41.8 6.7,42.1 1.2,41.4C-4.3,40.7 -10.8,39.6 -16.5,36.6C-22.2,33.6 -28.8,28.3 -33.1,23.6C-37.5,18.9 -40.8,13.4 -42.6,8.3C-44.4,3.2 -44.5,-0.6 -43.7,-7.1C-42.9,-13.6 -41.1,-25.2 -37.8,-30.7C-34.4,-36.2 -27.9,-37.8 -23.6,-40.2C-19.3,-42.6 -15,-42.8 -11.8,-45C-8.7,-47.2 -8.8,-53.8 -4.7,-53.2Z" fill="url(#gSpk)" stroke="#B0ECF8" stroke-width="2.8" stroke-dasharray="3,2" stroke-opacity="0.9"/>
<path d="M-4.7,-53.2C-0.6,-52.6 6.5,-46.5 13,-41.4C19.5,-36.3 29.1,-30.2 34.3,-22.5C39.5,-14.8 43.3,-2.6 44.3,4.7C45.3,12 42.5,16.2 40.2,21.3C37.9,26.4 34.6,32.2 30.7,35.5C26.8,38.8 21.4,39.8 16.5,40.8C11.6,41.8 6.7,42.1 1.2,41.4C-4.3,40.7 -10.8,39.6 -16.5,36.6C-22.2,33.6 -28.8,28.3 -33.1,23.6C-37.5,18.9 -40.8,13.4 -42.6,8.3C-44.4,3.2 -44.5,-0.6 -43.7,-7.1C-42.9,-13.6 -41.1,-25.2 -37.8,-30.7C-34.4,-36.2 -27.9,-37.8 -23.6,-40.2C-19.3,-42.6 -15,-42.8 -11.8,-45C-8.7,-47.2 -8.8,-53.8 -4.7,-53.2Z" fill="none" stroke="#7CC4EC" stroke-width="1.6" stroke-opacity="0.75" stroke-dasharray="2,3" transform="scale(0.9)"/>
<path d="M-8,-19 Q8,-27 22,-6" stroke="#BE2CA4" stroke-width="9" fill="none" stroke-linecap="round"/>
<path d="M-6,-19 Q8,-24 19,-8" stroke="#F0B0E4" stroke-width="2.4" fill="none" stroke-dasharray="2,2.4"/>
<path d="M-9,-4 L-1,-9 L8,-5 L9,7 L1,13 L-8,8 Z" fill="#4470D0" stroke="#ECC8F4" stroke-width="3"/>
<path d="M-4,2 l5,1.5 M1,3 l3,-4 M4,3 l1,2" stroke="#F02040" stroke-width="2.6"/>
<ellipse cx="-33" cy="-13" rx="4.6" ry="2.8" fill="#20AA44" transform="rotate(20 -33 -13)"/>
<ellipse cx="-26" cy="-3.5" rx="4.6" ry="2.8" fill="#20AA44" transform="rotate(70 -26 -3.5)"/>
<ellipse cx="-15.4" cy="-15.4" rx="4.6" ry="2.8" fill="#20AA44" transform="rotate(115 -15.4 -15.4)"/>
<ellipse cx="-18.9" cy="16.5" rx="4.6" ry="2.8" fill="#20AA44" transform="rotate(40 -18.9 16.5)"/>
<ellipse cx="-4.7" cy="22.5" rx="4.6" ry="2.8" fill="#20AA44" transform="rotate(20 -4.7 22.5)"/>
<ellipse cx="4.7" cy="20" rx="4.6" ry="2.8" fill="#20AA44" transform="rotate(150 4.7 20)"/>
<ellipse cx="17.7" cy="26" rx="4.6" ry="2.8" fill="#20AA44" transform="rotate(60 17.7 26)"/>
<ellipse cx="28.4" cy="1.2" rx="4.6" ry="2.8" fill="#20AA44" transform="rotate(80 28.4 1.2)"/>
<ellipse cx="36.6" cy="11.8" rx="4.6" ry="2.8" fill="#20AA44" transform="rotate(45 36.6 11.8)"/>
</g>
<g transform="translate(737,1902) rotate(-30.2)" opacity="1.0">
<path d="M-19,56.6 V99.5 A19,19 0 0 0 19,99.5 V56.6 Z" fill="url(#gCapB)"/>
<path d="M-19,56.6 V0 A19,19 0 0 1 19,0 V56.6 Q0,61.9 -19,56.6 Z" fill="url(#gCapW)"/>
<path d="M8.6,-9.5 Q15.2,49.7 8.6,108" stroke="#fff" stroke-opacity="0.35" stroke-width="4.2" fill="none" stroke-linecap="round"/>
</g>
<g transform="translate(823,1872) rotate(20.6)" opacity="1.0">
<path d="M-19.5,47 V102.5 A19.5,19.5 0 0 0 19.5,102.5 V47 Z" fill="url(#gCapW)"/>
<path d="M-19.5,47 V0 A19.5,19.5 0 0 1 19.5,0 V47 Q0,52.5 -19.5,47 Z" fill="url(#gCapR)"/>
<path d="M8.8,-9.8 Q15.6,51.3 8.8,111.3" stroke="#fff" stroke-opacity="0.35" stroke-width="4.3" fill="none" stroke-linecap="round"/>
</g>
<g clip-path="url(#cRiv)"><ellipse transform="translate(955,1925) rotate(0)" cx="-86" cy="-5" rx="180" ry="92" fill="url(#gGlow)"/></g>
<g transform="translate(955,1925) rotate(0)">
<path d="M-44.2,-12.9C-46.1,-15.8 -54.5,-21.2 -59.3,-24.6C-64,-27.9 -68.4,-30 -72.6,-32.9C-76.7,-35.8 -79.3,-37.6 -84.1,-41.9C-88.9,-46.1 -93.5,-51.9 -101.3,-58.6C-109.1,-65.3 -126.1,-78.1 -131,-82C-135.9,-85.9 -135.1,-86.8 -131,-82C-126.9,-77.2 -113.2,-61.4 -106.7,-53.4C-100.2,-45.4 -96.4,-39.2 -91.9,-34.1C-87.3,-29.1 -83.9,-26.2 -79.4,-23.1C-74.9,-20 -70,-18.1 -64.7,-15.4C-59.5,-12.8 -51.3,-7.5 -47.8,-7.1C-44.4,-6.7 -42.3,-10 -44.2,-12.9Z" fill="url(#gFlag)" fill-opacity="0.92" stroke="#DE8CA0" stroke-opacity="0.45" stroke-width="0.8"/>
<path d="M-77.9,-33.5C-78.6,-36.5 -83.5,-44.1 -86.4,-48.5C-89.2,-52.9 -91.2,-55.8 -94.8,-60C-98.4,-64.3 -105.8,-71.7 -108,-74C-110.2,-76.3 -109.1,-77 -108,-74C-106.9,-71 -103.6,-61 -101.2,-56C-98.8,-50.9 -96.8,-47.7 -93.6,-43.5C-90.5,-39.2 -84.7,-32.2 -82.1,-30.5C-79.5,-28.8 -77.2,-30.5 -77.9,-33.5Z" fill="url(#gFlag)" fill-opacity="0.92" stroke="#DE8CA0" stroke-opacity="0.45" stroke-width="0.8"/>
<path d="M-46.8,-8.9C-49.7,-11.5 -60.2,-16.1 -66.4,-18.6C-72.7,-21.2 -78.3,-22.2 -84.3,-24.2C-90.2,-26.2 -95.3,-27.9 -101.9,-30.6C-108.6,-33.2 -116,-36.4 -124.4,-40C-132.7,-43.6 -147.4,-50 -152,-52C-156.6,-54 -156.1,-55 -152,-52C-147.9,-49 -135.3,-39.1 -127.6,-34C-120,-28.9 -112.7,-24.8 -106.1,-21.4C-99.4,-18.1 -93.8,-15.8 -87.7,-13.8C-81.7,-11.8 -76,-11.2 -69.6,-9.4C-63.2,-7.6 -53,-3.1 -49.2,-3.1C-45.4,-3 -44,-6.3 -46.8,-8.9Z" fill="url(#gFlag)" fill-opacity="0.92" stroke="#DE8CA0" stroke-opacity="0.45" stroke-width="0.8"/>
<path d="M-47.4,0.6C-50.3,-1.4 -60.1,-3.7 -65.8,-4.3C-71.6,-4.9 -76.8,-3.1 -82.2,-3C-87.6,-2.9 -92.1,-4 -98.2,-3.5C-104.2,-2.9 -111.2,-1.3 -118.3,0.3C-125.5,1.9 -137.2,5 -141,6C-144.8,7 -144.9,5.7 -141,6C-137.1,6.3 -124.8,7.5 -117.7,7.7C-110.5,8 -103.8,7.3 -97.8,7.5C-91.9,7.7 -87.1,9.2 -81.8,9C-76.5,8.8 -71.7,6.6 -66.2,6.3C-60.6,6.1 -51.7,8.4 -48.6,7.4C-45.4,6.4 -44.6,2.6 -47.4,0.6Z" fill="url(#gFlag)" fill-opacity="0.92" stroke="#DE8CA0" stroke-opacity="0.45" stroke-width="0.8"/>
<path d="M-46,12.5C-49.1,11.1 -58.8,10.5 -64.6,10.7C-70.4,11 -75.2,13.3 -80.9,14.1C-86.5,14.9 -92.3,14.5 -98.6,15.6C-104.9,16.6 -111.7,18.2 -118.6,20.3C-125.5,22.4 -136.4,26.7 -140,28C-143.6,29.3 -143.8,28.1 -140,28C-136.2,27.9 -124.5,27.9 -117.4,27.7C-110.3,27.4 -103.8,26.7 -97.4,26.4C-91.1,26.1 -84.8,26.8 -79.1,25.9C-73.5,25.1 -68.9,22.4 -63.4,21.3C-57.9,20.2 -48.9,20.9 -46,19.5C-43.1,18 -42.9,14 -46,12.5Z" fill="url(#gFlag)" fill-opacity="0.92" stroke="#DE8CA0" stroke-opacity="0.45" stroke-width="0.8"/>
<path d="M-52,-8 C-54,-26 -40,-33 -20,-32 C0,-31 10,-29 25,-31 C45,-32 56,-22 56,-4 C56,14 48,28 30,28 C15,28 5,25 -8,28.5 C-30,33 -50,28 -52,-8 Z" fill="url(#gBacOut)"/>
<g transform="scale(0.84,0.74) translate(1,1)"><path d="M-52,-8 C-54,-26 -40,-33 -20,-32 C0,-31 10,-29 25,-31 C45,-32 56,-22 56,-4 C56,14 48,28 30,28 C15,28 5,25 -8,28.5 C-30,33 -50,28 -52,-8 Z" fill="url(#gBacIn)"/></g>
<path d="M-38,1 L-29,-6 L34,-8 L43,2" stroke="#DC90A8" stroke-opacity="0.55" stroke-width="1.4" fill="none"/>
<path d="M-36.9,-11.3 A20,20 0 0 1 -24.0,-16.0" stroke="#F8788C" stroke-width="3.8" fill="none"/><path d="M-24.0,-16.0 A20,20 0 0 1 -9.9,-10.1" stroke="#F04678" stroke-width="3.8" fill="none"/><path d="M-9.9,-10.1 A20,20 0 0 1 -5.2,-2.8" stroke="#3C3C50" stroke-width="3.8" fill="none"/><path d="M-5.2,-2.8 A20,20 0 0 1 -5.2,10.8" stroke="#AA5AF0" stroke-width="3.8" fill="none"/><path d="M-5.2,10.8 A20,20 0 0 1 -9.9,18.1" stroke="#3C3C50" stroke-width="3.8" fill="none"/><path d="M-9.9,18.1 A20,20 0 0 1 -24.0,24.0" stroke="#328CE6" stroke-width="3.8" fill="none"/><path d="M-24.0,24.0 A20,20 0 0 1 -42.8,-2.8" stroke="#46B4F0" stroke-width="3.8" fill="none"/><path d="M-42.8,-2.8 A20,20 0 0 1 -37.4,-10.9" stroke="#3C3C50" stroke-width="3.8" fill="none"/>
</g>
<circle cx="1145.4" cy="2094.1" r="125.4" fill="url(#gHalo)" clip-path="url(#cRivW)"/>
<g transform="translate(1145.4,2094.1) rotate(0) scale(78.4,78.4)">
<circle cx="0" cy="0" r="1" fill="#74941A"/>
<circle cx="0" cy="0" r="0.995" fill="none" stroke="#8CA82E" stroke-width="0.03"/>
<g clip-path="url(#cUnit)">
<circle cx="0" cy="0" r="0.87" fill="url(#gSph)"/>
<g filter="url(#fBu)">
<path d="M0,0.08 L0.788,-0.368 A0.87,0.87 0 0 1 0.713,0.499 Z" fill="#4E6A00" fill-opacity="0.55"/>
<path d="M0,0.08 L0.713,0.499 A0.87,0.87 0 0 1 0.151,0.857 Z" fill="#6A8A00" fill-opacity="0.25"/>
<path d="M0,0.08 L-0.076,0.867 A0.87,0.87 0 0 1 -0.840,0.225 Z" fill="#E8FF30" fill-opacity="0.5"/>
<path d="M0,0.08 L-0.840,0.225 A0.87,0.87 0 0 1 -0.713,-0.499 Z" fill="#B8E010" fill-opacity="0.25"/>
<path d="M0,0.08 L-0.368,-0.788 A0.87,0.87 0 0 1 0.408,-0.768 Z" fill="#F4FF50" fill-opacity="0.45"/>
<path d="M0,0.08 L0.408,-0.768 A0.87,0.87 0 0 1 0.788,-0.368 Z" fill="#86A808" fill-opacity="0.3"/>
</g>
<ellipse cx="0.08" cy="-0.6" rx="0.22" ry="0.14" fill="#FBFF60" fill-opacity="0.85" filter="url(#fBu2)"/>
<ellipse cx="-0.05" cy="0.1" rx="0.1" ry="0.07" fill="#F4FF50" fill-opacity="0.8" filter="url(#fBu2)"/>
<circle cx="0" cy="0" r="0.9" fill="none" stroke="#7C9C10" stroke-width="0.05" stroke-opacity="0.55"/>
</g></g>
<g transform="translate(970.9,2041.9) rotate(-8)">
<ellipse cx="0" cy="0" rx="30.8" ry="47.6" fill="#62B4CC"/>
<ellipse cx="0" cy="0" rx="30.8" ry="47.6" fill="#62B4CC" filter="url(#fCell)"/>
<ellipse cx="-10.8" cy="0" rx="16.9" ry="40.5" fill="#8FD8C0" fill-opacity="0.22"/>
<ellipse cx="0" cy="0" rx="30.8" ry="47.6" fill="none" stroke="#5A5A60" stroke-width="2.6" stroke-dasharray="1.6,7.4" stroke-dashoffset="4"/>
<ellipse cx="0" cy="0" rx="30.8" ry="47.6" fill="none" stroke="#EAF8FC" stroke-width="2.2" stroke-dasharray="5.5,3.5"/>
<circle cx="12.3" cy="26.2" r="4.2" fill="#E8D040"/><circle cx="12.3" cy="26.2" r="1.8" fill="#D08020"/>
</g>
<g transform="translate(1047.4,2026.9) rotate(0)">
<ellipse cx="0" cy="0" rx="30.8" ry="33.6" fill="#62B4CC"/>
<ellipse cx="0" cy="0" rx="30.8" ry="33.6" fill="#62B4CC" filter="url(#fCell)"/>
<ellipse cx="-10.8" cy="0" rx="16.9" ry="28.6" fill="#8FD8C0" fill-opacity="0.22"/>
<ellipse cx="0" cy="0" rx="30.8" ry="33.6" fill="none" stroke="#5A5A60" stroke-width="2.6" stroke-dasharray="1.6,7.4" stroke-dashoffset="4"/>
<ellipse cx="0" cy="0" rx="30.8" ry="33.6" fill="none" stroke="#EAF8FC" stroke-width="2.2" stroke-dasharray="5.5,3.5"/>
</g>
<g transform="translate(1087.6,2036.3) rotate(0)">
<ellipse cx="0" cy="0" rx="17.7" ry="23.3" fill="#62B4CC"/>
<ellipse cx="0" cy="0" rx="17.7" ry="23.3" fill="#62B4CC" filter="url(#fCell)"/>
<ellipse cx="-6.2" cy="0" rx="9.7" ry="19.8" fill="#8FD8C0" fill-opacity="0.22"/>
<ellipse cx="0" cy="0" rx="17.7" ry="23.3" fill="none" stroke="#5A5A60" stroke-width="2.6" stroke-dasharray="1.6,7.4" stroke-dashoffset="4"/>
<ellipse cx="0" cy="0" rx="17.7" ry="23.3" fill="none" stroke="#EAF8FC" stroke-width="2.2" stroke-dasharray="5.5,3.5"/>
</g>
<g transform="translate(1040.9,2109) rotate(-15)">
<ellipse cx="0" cy="0" rx="30.8" ry="36.4" fill="#62B4CC"/>
<ellipse cx="0" cy="0" rx="30.8" ry="36.4" fill="#62B4CC" filter="url(#fCell)"/>
<ellipse cx="-10.8" cy="0" rx="16.9" ry="30.9" fill="#8FD8C0" fill-opacity="0.22"/>
<ellipse cx="0" cy="0" rx="30.8" ry="36.4" fill="none" stroke="#5A5A60" stroke-width="2.6" stroke-dasharray="1.6,7.4" stroke-dashoffset="4"/>
<ellipse cx="0" cy="0" rx="30.8" ry="36.4" fill="none" stroke="#EAF8FC" stroke-width="2.2" stroke-dasharray="5.5,3.5"/>
</g>
<g transform="translate(1113.7,2111.8) rotate(25)">
<ellipse cx="0" cy="0" rx="30.8" ry="44.8" fill="#62B4CC"/>
<ellipse cx="0" cy="0" rx="30.8" ry="44.8" fill="#62B4CC" filter="url(#fCell)"/>
<ellipse cx="-10.8" cy="0" rx="16.9" ry="38.1" fill="#8FD8C0" fill-opacity="0.22"/>
<ellipse cx="0" cy="0" rx="30.8" ry="44.8" fill="none" stroke="#5A5A60" stroke-width="2.6" stroke-dasharray="1.6,7.4" stroke-dashoffset="4"/>
<ellipse cx="0" cy="0" rx="30.8" ry="44.8" fill="none" stroke="#EAF8FC" stroke-width="2.2" stroke-dasharray="5.5,3.5"/>
<circle cx="12.3" cy="24.6" r="4.2" fill="#E8D040"/><circle cx="12.3" cy="24.6" r="1.8" fill="#D08020"/>
</g>
<g transform="translate(948.5,2134.2) rotate(-8)">
<ellipse cx="0" cy="0" rx="29.9" ry="43.9" fill="#62B4CC"/>
<ellipse cx="0" cy="0" rx="29.9" ry="43.9" fill="#62B4CC" filter="url(#fCell)"/>
<ellipse cx="-10.5" cy="0" rx="16.4" ry="37.3" fill="#8FD8C0" fill-opacity="0.22"/>
<ellipse cx="0" cy="0" rx="29.9" ry="43.9" fill="none" stroke="#5A5A60" stroke-width="2.6" stroke-dasharray="1.6,7.4" stroke-dashoffset="4"/>
<ellipse cx="0" cy="0" rx="29.9" ry="43.9" fill="none" stroke="#EAF8FC" stroke-width="2.2" stroke-dasharray="5.5,3.5"/>
</g>
<g transform="translate(999.9,2149.2) rotate(-10)">
<ellipse cx="0" cy="0" rx="15.9" ry="24.3" fill="#62B4CC"/>
<ellipse cx="0" cy="0" rx="15.9" ry="24.3" fill="#62B4CC" filter="url(#fCell)"/>
<ellipse cx="-5.6" cy="0" rx="8.7" ry="20.7" fill="#8FD8C0" fill-opacity="0.22"/>
<ellipse cx="0" cy="0" rx="15.9" ry="24.3" fill="none" stroke="#5A5A60" stroke-width="2.6" stroke-dasharray="1.6,7.4" stroke-dashoffset="4"/>
<ellipse cx="0" cy="0" rx="15.9" ry="24.3" fill="none" stroke="#EAF8FC" stroke-width="2.2" stroke-dasharray="5.5,3.5"/>
</g>
<g transform="translate(973.7,2212.6) rotate(0)">
<ellipse cx="0" cy="0" rx="31.7" ry="29.9" fill="#62B4CC"/>
<ellipse cx="0" cy="0" rx="31.7" ry="29.9" fill="#62B4CC" filter="url(#fCell)"/>
<ellipse cx="-11.1" cy="0" rx="17.4" ry="25.4" fill="#8FD8C0" fill-opacity="0.22"/>
<ellipse cx="0" cy="0" rx="31.7" ry="29.9" fill="none" stroke="#5A5A60" stroke-width="2.6" stroke-dasharray="1.6,7.4" stroke-dashoffset="4"/>
<ellipse cx="0" cy="0" rx="31.7" ry="29.9" fill="none" stroke="#EAF8FC" stroke-width="2.2" stroke-dasharray="5.5,3.5"/>
</g>
<g transform="translate(1096.9,2209.8) rotate(0)">
<ellipse cx="0" cy="0" rx="12" ry="23" fill="#62B4CC"/>
<ellipse cx="0" cy="0" rx="12" ry="23" fill="#62B4CC" filter="url(#fCell)"/>
<ellipse cx="-4.2" cy="0" rx="6.6" ry="19.6" fill="#8FD8C0" fill-opacity="0.22"/>
<ellipse cx="0" cy="0" rx="12" ry="23" fill="none" stroke="#5A5A60" stroke-width="2.6" stroke-dasharray="1.6,7.4" stroke-dashoffset="4"/>
<ellipse cx="0" cy="0" rx="12" ry="23" fill="none" stroke="#EAF8FC" stroke-width="2.2" stroke-dasharray="5.5,3.5"/>
</g>
<g transform="translate(1057.7,2208.9) rotate(12)">
<ellipse cx="0" cy="0" rx="30.8" ry="46.7" fill="#62B4CC"/>
<ellipse cx="0" cy="0" rx="30.8" ry="46.7" fill="#62B4CC" filter="url(#fCell)"/>
<ellipse cx="-10.8" cy="0" rx="16.9" ry="39.7" fill="#8FD8C0" fill-opacity="0.22"/>
<ellipse cx="0" cy="0" rx="30.8" ry="46.7" fill="none" stroke="#5A5A60" stroke-width="2.6" stroke-dasharray="1.6,7.4" stroke-dashoffset="4"/>
<ellipse cx="0" cy="0" rx="30.8" ry="46.7" fill="none" stroke="#EAF8FC" stroke-width="2.2" stroke-dasharray="5.5,3.5"/>
<circle cx="12.3" cy="25.7" r="4.2" fill="#E8D040"/><circle cx="12.3" cy="25.7" r="1.8" fill="#D08020"/>
</g>
<g clip-path="url(#cRiv)"><ellipse transform="translate(1358.5,2303.8) rotate(0)" cx="-86" cy="-5" rx="180" ry="92" fill="url(#gGlow)"/></g>
<g transform="translate(1358.5,2303.8) rotate(0)">
<path d="M-44.2,-12.9C-46.1,-15.8 -54.5,-21.2 -59.3,-24.6C-64,-27.9 -68.4,-30 -72.6,-32.9C-76.7,-35.8 -79.3,-37.6 -84.1,-41.9C-88.9,-46.1 -93.5,-51.9 -101.3,-58.6C-109.1,-65.3 -126.1,-78.1 -131,-82C-135.9,-85.9 -135.1,-86.8 -131,-82C-126.9,-77.2 -113.2,-61.4 -106.7,-53.4C-100.2,-45.4 -96.4,-39.2 -91.9,-34.1C-87.3,-29.1 -83.9,-26.2 -79.4,-23.1C-74.9,-20 -70,-18.1 -64.7,-15.4C-59.5,-12.8 -51.3,-7.5 -47.8,-7.1C-44.4,-6.7 -42.3,-10 -44.2,-12.9Z" fill="url(#gFlag)" fill-opacity="0.92" stroke="#DE8CA0" stroke-opacity="0.45" stroke-width="0.8"/>
<path d="M-77.9,-33.5C-78.6,-36.5 -83.5,-44.1 -86.4,-48.5C-89.2,-52.9 -91.2,-55.8 -94.8,-60C-98.4,-64.3 -105.8,-71.7 -108,-74C-110.2,-76.3 -109.1,-77 -108,-74C-106.9,-71 -103.6,-61 -101.2,-56C-98.8,-50.9 -96.8,-47.7 -93.6,-43.5C-90.5,-39.2 -84.7,-32.2 -82.1,-30.5C-79.5,-28.8 -77.2,-30.5 -77.9,-33.5Z" fill="url(#gFlag)" fill-opacity="0.92" stroke="#DE8CA0" stroke-opacity="0.45" stroke-width="0.8"/>
<path d="M-46.8,-8.9C-49.7,-11.5 -60.2,-16.1 -66.4,-18.6C-72.7,-21.2 -78.3,-22.2 -84.3,-24.2C-90.2,-26.2 -95.3,-27.9 -101.9,-30.6C-108.6,-33.2 -116,-36.4 -124.4,-40C-132.7,-43.6 -147.4,-50 -152,-52C-156.6,-54 -156.1,-55 -152,-52C-147.9,-49 -135.3,-39.1 -127.6,-34C-120,-28.9 -112.7,-24.8 -106.1,-21.4C-99.4,-18.1 -93.8,-15.8 -87.7,-13.8C-81.7,-11.8 -76,-11.2 -69.6,-9.4C-63.2,-7.6 -53,-3.1 -49.2,-3.1C-45.4,-3 -44,-6.3 -46.8,-8.9Z" fill="url(#gFlag)" fill-opacity="0.92" stroke="#DE8CA0" stroke-opacity="0.45" stroke-width="0.8"/>
<path d="M-47.4,0.6C-50.3,-1.4 -60.1,-3.7 -65.8,-4.3C-71.6,-4.9 -76.8,-3.1 -82.2,-3C-87.6,-2.9 -92.1,-4 -98.2,-3.5C-104.2,-2.9 -111.2,-1.3 -118.3,0.3C-125.5,1.9 -137.2,5 -141,6C-144.8,7 -144.9,5.7 -141,6C-137.1,6.3 -124.8,7.5 -117.7,7.7C-110.5,8 -103.8,7.3 -97.8,7.5C-91.9,7.7 -87.1,9.2 -81.8,9C-76.5,8.8 -71.7,6.6 -66.2,6.3C-60.6,6.1 -51.7,8.4 -48.6,7.4C-45.4,6.4 -44.6,2.6 -47.4,0.6Z" fill="url(#gFlag)" fill-opacity="0.92" stroke="#DE8CA0" stroke-opacity="0.45" stroke-width="0.8"/>
<path d="M-46,12.5C-49.1,11.1 -58.8,10.5 -64.6,10.7C-70.4,11 -75.2,13.3 -80.9,14.1C-86.5,14.9 -92.3,14.5 -98.6,15.6C-104.9,16.6 -111.7,18.2 -118.6,20.3C-125.5,22.4 -136.4,26.7 -140,28C-143.6,29.3 -143.8,28.1 -140,28C-136.2,27.9 -124.5,27.9 -117.4,27.7C-110.3,27.4 -103.8,26.7 -97.4,26.4C-91.1,26.1 -84.8,26.8 -79.1,25.9C-73.5,25.1 -68.9,22.4 -63.4,21.3C-57.9,20.2 -48.9,20.9 -46,19.5C-43.1,18 -42.9,14 -46,12.5Z" fill="url(#gFlag)" fill-opacity="0.92" stroke="#DE8CA0" stroke-opacity="0.45" stroke-width="0.8"/>
<path d="M-52,-8 C-54,-26 -40,-33 -20,-32 C0,-31 10,-29 25,-31 C45,-32 56,-22 56,-4 C56,14 48,28 30,28 C15,28 5,25 -8,28.5 C-30,33 -50,28 -52,-8 Z" fill="url(#gBacOut)"/>
<g transform="scale(0.84,0.74) translate(1,1)"><path d="M-52,-8 C-54,-26 -40,-33 -20,-32 C0,-31 10,-29 25,-31 C45,-32 56,-22 56,-4 C56,14 48,28 30,28 C15,28 5,25 -8,28.5 C-30,33 -50,28 -52,-8 Z" fill="url(#gBacIn)"/></g>
<path d="M-38,1 L-29,-6 L34,-8 L43,2" stroke="#DC90A8" stroke-opacity="0.55" stroke-width="1.4" fill="none"/>
</g>
<g transform="translate(1172,2327) scale(1.000)" filter="url(#fB08)">
<path d="M3.1,-34.6 L-6.7,-58.2 L-10.8,-33.0 Z M-17.8,-29.8 L-37.5,-40.9 L-28.1,-20.3 Z M-25.9,-23.1 L-48.4,-28.0 L-32.9,-11.0 Z M-31.1,-15.4 L-54.5,-14.4 L-34.7,-1.9 Z M-34.7,1.6 L-53.4,13.7 L-31.2,15.2 Z M-24.3,24.8 L-26.6,41.5 L-12.5,32.4 Z M6.6,34.1 L20.1,48.5 L19.5,28.7 Z M19.3,28.9 L38.1,37.7 L29.1,18.9 Z M25.2,23.9 L48.1,30.0 L32.6,12.0 Z M31.1,15.4 L57.2,14.9 L34.7,1.8 Z M34.0,-7.0 L46.6,-20.0 L28.5,-19.8 Z " fill="#3A4EB8"/>
<path d="M-6.7,-58.2 L-9.5,-82.7 M-37.5,-40.9 L-52.0,-56.7 M-48.4,-28.0 L-67.4,-39.0 M-54.5,-14.4 L-76.2,-20.1 M-53.4,13.7 L-73.9,18.9 M-26.6,41.5 L-34.9,54.4 M20.1,48.5 L27.2,65.6 M38.1,37.7 L52.0,51.4 M48.1,30.0 L67.4,42.0 M57.2,14.9 L81.6,21.3 M46.6,-20.0 L62.0,-26.6 " stroke="#3444B0" stroke-width="2.1" stroke-dasharray="3.4,2.2" fill="none"/>
<path d="M-4.7,-53.2C-0.6,-52.6 6.5,-46.5 13,-41.4C19.5,-36.3 29.1,-30.2 34.3,-22.5C39.5,-14.8 43.3,-2.6 44.3,4.7C45.3,12 42.5,16.2 40.2,21.3C37.9,26.4 34.6,32.2 30.7,35.5C26.8,38.8 21.4,39.8 16.5,40.8C11.6,41.8 6.7,42.1 1.2,41.4C-4.3,40.7 -10.8,39.6 -16.5,36.6C-22.2,33.6 -28.8,28.3 -33.1,23.6C-37.5,18.9 -40.8,13.4 -42.6,8.3C-44.4,3.2 -44.5,-0.6 -43.7,-7.1C-42.9,-13.6 -41.1,-25.2 -37.8,-30.7C-34.4,-36.2 -27.9,-37.8 -23.6,-40.2C-19.3,-42.6 -15,-42.8 -11.8,-45C-8.7,-47.2 -8.8,-53.8 -4.7,-53.2Z" fill="url(#gSpk)" stroke="#B0ECF8" stroke-width="2.8" stroke-dasharray="3,2" stroke-opacity="0.9"/>
<path d="M-4.7,-53.2C-0.6,-52.6 6.5,-46.5 13,-41.4C19.5,-36.3 29.1,-30.2 34.3,-22.5C39.5,-14.8 43.3,-2.6 44.3,4.7C45.3,12 42.5,16.2 40.2,21.3C37.9,26.4 34.6,32.2 30.7,35.5C26.8,38.8 21.4,39.8 16.5,40.8C11.6,41.8 6.7,42.1 1.2,41.4C-4.3,40.7 -10.8,39.6 -16.5,36.6C-22.2,33.6 -28.8,28.3 -33.1,23.6C-37.5,18.9 -40.8,13.4 -42.6,8.3C-44.4,3.2 -44.5,-0.6 -43.7,-7.1C-42.9,-13.6 -41.1,-25.2 -37.8,-30.7C-34.4,-36.2 -27.9,-37.8 -23.6,-40.2C-19.3,-42.6 -15,-42.8 -11.8,-45C-8.7,-47.2 -8.8,-53.8 -4.7,-53.2Z" fill="none" stroke="#7CC4EC" stroke-width="1.6" stroke-opacity="0.75" stroke-dasharray="2,3" transform="scale(0.9)"/>
<path d="M-8,-19 Q8,-27 22,-6" stroke="#BE2CA4" stroke-width="9" fill="none" stroke-linecap="round"/>
<path d="M-6,-19 Q8,-24 19,-8" stroke="#F0B0E4" stroke-width="2.4" fill="none" stroke-dasharray="2,2.4"/>
<path d="M-9,-4 L-1,-9 L8,-5 L9,7 L1,13 L-8,8 Z" fill="#4470D0" stroke="#ECC8F4" stroke-width="3"/>
<path d="M-4,2 l5,1.5 M1,3 l3,-4 M4,3 l1,2" stroke="#F02040" stroke-width="2.6"/>
<ellipse cx="-33" cy="-13" rx="4.6" ry="2.8" fill="#20AA44" transform="rotate(20 -33 -13)"/>
<ellipse cx="-26" cy="-3.5" rx="4.6" ry="2.8" fill="#20AA44" transform="rotate(70 -26 -3.5)"/>
<ellipse cx="-15.4" cy="-15.4" rx="4.6" ry="2.8" fill="#20AA44" transform="rotate(115 -15.4 -15.4)"/>
<ellipse cx="-18.9" cy="16.5" rx="4.6" ry="2.8" fill="#20AA44" transform="rotate(40 -18.9 16.5)"/>
<ellipse cx="-4.7" cy="22.5" rx="4.6" ry="2.8" fill="#20AA44" transform="rotate(20 -4.7 22.5)"/>
<ellipse cx="4.7" cy="20" rx="4.6" ry="2.8" fill="#20AA44" transform="rotate(150 4.7 20)"/>
<ellipse cx="17.7" cy="26" rx="4.6" ry="2.8" fill="#20AA44" transform="rotate(60 17.7 26)"/>
<ellipse cx="28.4" cy="1.2" rx="4.6" ry="2.8" fill="#20AA44" transform="rotate(80 28.4 1.2)"/>
<ellipse cx="36.6" cy="11.8" rx="4.6" ry="2.8" fill="#20AA44" transform="rotate(45 36.6 11.8)"/>
</g>
<g transform="translate(866,2332) rotate(-24.5)" opacity="1.0">
<path d="M-27.5,92.8 V163.8 A27.5,27.5 0 0 0 27.5,163.8 V92.8 Z" fill="url(#gCapB)"/>
<path d="M-27.5,92.8 V0 A27.5,27.5 0 0 1 27.5,0 V92.8 Q0,100.5 -27.5,92.8 Z" fill="url(#gCapW)"/>
<path d="M12.4,-13.8 Q22,81.9 12.4,176.2" stroke="#fff" stroke-opacity="0.35" stroke-width="6" fill="none" stroke-linecap="round"/>
</g>
<g transform="translate(984,2290) rotate(15)" opacity="1.0">
<path d="M-28.5,76.6 V166.6 A28.5,28.5 0 0 0 28.5,166.6 V76.6 Z" fill="url(#gCapW)"/>
<path d="M-28.5,76.6 V0 A28.5,28.5 0 0 1 28.5,0 V76.6 Q0,84.6 -28.5,76.6 Z" fill="url(#gCapR)"/>
<path d="M12.8,-14.2 Q22.8,83.3 12.8,179.5" stroke="#fff" stroke-opacity="0.35" stroke-width="6.3" fill="none" stroke-linecap="round"/>
</g>
<circle cx="1079.2" cy="2467" r="94.8" fill="url(#gHalo)" clip-path="url(#cRivW)"/>
<g transform="translate(1079.2,2467) rotate(0) scale(55.6,55.6)">
<circle cx="0" cy="0" r="1" fill="#74941A"/>
<circle cx="0" cy="0" r="0.995" fill="none" stroke="#8CA82E" stroke-width="0.03"/>
<g clip-path="url(#cUnit)">
<circle cx="0" cy="0" r="0.87" fill="url(#gSph)"/>
<g filter="url(#fBu)">
<path d="M0,0.08 L0.788,-0.368 A0.87,0.87 0 0 1 0.713,0.499 Z" fill="#4E6A00" fill-opacity="0.55"/>
<path d="M0,0.08 L0.713,0.499 A0.87,0.87 0 0 1 0.151,0.857 Z" fill="#6A8A00" fill-opacity="0.25"/>
<path d="M0,0.08 L-0.076,0.867 A0.87,0.87 0 0 1 -0.840,0.225 Z" fill="#E8FF30" fill-opacity="0.5"/>
<path d="M0,0.08 L-0.840,0.225 A0.87,0.87 0 0 1 -0.713,-0.499 Z" fill="#B8E010" fill-opacity="0.25"/>
<path d="M0,0.08 L-0.368,-0.788 A0.87,0.87 0 0 1 0.408,-0.768 Z" fill="#F4FF50" fill-opacity="0.45"/>
<path d="M0,0.08 L0.408,-0.768 A0.87,0.87 0 0 1 0.788,-0.368 Z" fill="#86A808" fill-opacity="0.3"/>
</g>
<ellipse cx="0.05" cy="-0.55" rx="0.22" ry="0.14" fill="#FBFF60" fill-opacity="0.85" filter="url(#fBu2)"/>
<ellipse cx="-0.05" cy="0.1" rx="0.1" ry="0.07" fill="#F4FF50" fill-opacity="0.8" filter="url(#fBu2)"/>
<circle cx="0" cy="0" r="0.9" fill="none" stroke="#7C9C10" stroke-width="0.05" stroke-opacity="0.55"/>
</g></g>
<g transform="translate(1240.1,2396.3)" filter="url(#fBv)">
<path d="M22.5,0.0 L28.0,0.0 M19.9,10.6 L26.3,14.0 M12.6,18.7 L17.6,26.1 M7.0,21.4 L8.7,26.6 M-3.9,22.2 L-5.2,29.3 M-13.9,17.7 L-19.4,24.8 M-18.2,13.2 L-22.7,16.5 M-22.3,3.1 L-29.5,4.1 M-21.1,-7.7 L-29.6,-10.8 M-18.2,-13.2 L-22.7,-16.5 M-9.9,-20.2 L-13.0,-26.7 M0.8,-22.5 L1.1,-31.5 M7.0,-21.4 L8.7,-26.6 M16.2,-15.6 L21.4,-20.7 M21.6,-6.2 L30.3,-8.7 " stroke="#D0609E" stroke-width="1.8" fill="none" stroke-opacity="0.9"/>
<circle cx="28.0" cy="0.0" r="1.6" fill="#DA5C96"/>
<circle cx="26.3" cy="14.0" r="1.6" fill="#DA5C96"/>
<circle cx="17.6" cy="26.1" r="1.6" fill="#DA5C96"/>
<circle cx="8.7" cy="26.6" r="1.6" fill="#DA5C96"/>
<circle cx="-5.2" cy="29.3" r="1.6" fill="#DA5C96"/>
<circle cx="-19.4" cy="24.8" r="1.6" fill="#DA5C96"/>
<circle cx="-22.7" cy="16.5" r="1.6" fill="#DA5C96"/>
<circle cx="-29.5" cy="4.1" r="1.6" fill="#DA5C96"/>
<circle cx="-29.6" cy="-10.8" r="1.6" fill="#DA5C96"/>
<circle cx="-22.7" cy="-16.5" r="1.6" fill="#DA5C96"/>
<circle cx="-13.0" cy="-26.7" r="1.6" fill="#DA5C96"/>
<circle cx="1.1" cy="-31.5" r="1.6" fill="#DA5C96"/>
<circle cx="8.7" cy="-26.6" r="1.6" fill="#DA5C96"/>
<circle cx="21.4" cy="-20.7" r="1.6" fill="#DA5C96"/>
<circle cx="30.3" cy="-8.7" r="1.6" fill="#DA5C96"/>
<circle cx="0" cy="0" r="25" fill="url(#gVir)"/>
<ellipse cx="-6.2" cy="6.2" rx="11.2" ry="8.8" fill="#C070A8" fill-opacity="0.45" filter="url(#fB2)"/>
</g>
<g transform="translate(1341.7,2446.1)" filter="url(#fBv)">
<path d="M37.8,0.0 L47.0,0.0 M36.0,11.6 L47.6,15.3 M30.7,22.1 L43.0,30.9 M28.3,25.1 L35.2,31.2 M19.3,32.5 L25.5,43.0 M8.4,36.9 L11.7,51.6 M4.6,37.5 L5.7,46.7 M-7.2,37.1 L-9.5,49.1 M-18.2,33.1 L-25.5,46.4 M-21.5,31.1 L-26.7,38.7 M-30.0,23.0 L-39.6,30.5 M-35.6,12.7 L-49.8,17.8 M-36.7,9.0 L-45.7,11.3 M-37.7,-2.6 L-49.9,-3.5 M-35.1,-14.1 L-49.1,-19.7 M-33.5,-17.6 L-41.7,-21.9 M-26.5,-27.0 L-35.0,-35.7 M-16.9,-33.8 L-23.7,-47.3 M-13.4,-35.3 L-16.7,-44.0 M-1.9,-37.8 L-2.5,-49.9 M9.7,-36.5 L13.6,-51.1 M13.4,-35.3 L16.7,-44.0 M23.6,-29.5 L31.2,-39.1 M31.5,-20.9 L44.1,-29.2 M33.5,-17.6 L41.7,-21.9 M37.2,-6.5 L49.2,-8.5 " stroke="#D0609E" stroke-width="2.9" fill="none" stroke-opacity="0.9"/>
<circle cx="47.0" cy="0.0" r="2.7" fill="#DA5C96"/>
<circle cx="47.6" cy="15.3" r="2.7" fill="#DA5C96"/>
<circle cx="43.0" cy="30.9" r="2.7" fill="#DA5C96"/>
<circle cx="35.2" cy="31.2" r="2.7" fill="#DA5C96"/>
<circle cx="25.5" cy="43.0" r="2.7" fill="#DA5C96"/>
<circle cx="11.7" cy="51.6" r="2.7" fill="#DA5C96"/>
<circle cx="5.7" cy="46.7" r="2.7" fill="#DA5C96"/>
<circle cx="-9.5" cy="49.1" r="2.7" fill="#DA5C96"/>
<circle cx="-25.5" cy="46.4" r="2.7" fill="#DA5C96"/>
<circle cx="-26.7" cy="38.7" r="2.7" fill="#DA5C96"/>
<circle cx="-39.6" cy="30.5" r="2.7" fill="#DA5C96"/>
<circle cx="-49.8" cy="17.8" r="2.7" fill="#DA5C96"/>
<circle cx="-45.7" cy="11.3" r="2.7" fill="#DA5C96"/>
<circle cx="-49.9" cy="-3.5" r="2.7" fill="#DA5C96"/>
<circle cx="-49.1" cy="-19.7" r="2.7" fill="#DA5C96"/>
<circle cx="-41.7" cy="-21.9" r="2.7" fill="#DA5C96"/>
<circle cx="-35.0" cy="-35.7" r="2.7" fill="#DA5C96"/>
<circle cx="-23.7" cy="-47.3" r="2.7" fill="#DA5C96"/>
<circle cx="-16.7" cy="-44.0" r="2.7" fill="#DA5C96"/>
<circle cx="-2.5" cy="-49.9" r="2.7" fill="#DA5C96"/>
<circle cx="13.6" cy="-51.1" r="2.7" fill="#DA5C96"/>
<circle cx="16.7" cy="-44.0" r="2.7" fill="#DA5C96"/>
<circle cx="31.2" cy="-39.1" r="2.7" fill="#DA5C96"/>
<circle cx="44.1" cy="-29.2" r="2.7" fill="#DA5C96"/>
<circle cx="41.7" cy="-21.9" r="2.7" fill="#DA5C96"/>
<circle cx="49.2" cy="-8.5" r="2.7" fill="#DA5C96"/>
<circle cx="0" cy="0" r="42" fill="url(#gVir)"/>
<ellipse cx="-10.5" cy="10.5" rx="18.9" ry="14.7" fill="#C070A8" fill-opacity="0.45" filter="url(#fB2)"/>
</g>
<g transform="translate(1425.1,2402.1)" filter="url(#fBv)">
<path d="M15.3,0.0 L19.0,0.0 M13.3,7.6 L17.6,10.0 M7.8,13.2 L10.9,18.4 M3.4,14.9 L4.2,18.6 M-4.4,14.6 L-5.9,19.4 M-11.1,10.5 L-15.6,14.7 M-13.8,6.6 L-17.2,8.3 M-15.3,-1.1 L-20.2,-1.4 M-12.7,-8.5 L-17.8,-11.9 M-9.5,-12.0 L-11.9,-14.9 M-2.4,-15.1 L-3.1,-20.0 M5.4,-14.3 L7.6,-20.0 M9.5,-12.0 L11.9,-14.9 M14.2,-5.7 L18.8,-7.5 " stroke="#D0609E" stroke-width="1.6" fill="none" stroke-opacity="0.9"/>
<circle cx="19.0" cy="0.0" r="1.5" fill="#DA5C96"/>
<circle cx="17.6" cy="10.0" r="1.5" fill="#DA5C96"/>
<circle cx="10.9" cy="18.4" r="1.5" fill="#DA5C96"/>
<circle cx="4.2" cy="18.6" r="1.5" fill="#DA5C96"/>
<circle cx="-5.9" cy="19.4" r="1.5" fill="#DA5C96"/>
<circle cx="-15.6" cy="14.7" r="1.5" fill="#DA5C96"/>
<circle cx="-17.2" cy="8.3" r="1.5" fill="#DA5C96"/>
<circle cx="-20.2" cy="-1.4" r="1.5" fill="#DA5C96"/>
<circle cx="-17.8" cy="-11.9" r="1.5" fill="#DA5C96"/>
<circle cx="-11.9" cy="-14.9" r="1.5" fill="#DA5C96"/>
<circle cx="-3.1" cy="-20.0" r="1.5" fill="#DA5C96"/>
<circle cx="7.6" cy="-20.0" r="1.5" fill="#DA5C96"/>
<circle cx="11.9" cy="-14.9" r="1.5" fill="#DA5C96"/>
<circle cx="18.8" cy="-7.5" r="1.5" fill="#DA5C96"/>
<circle cx="0" cy="0" r="17" fill="url(#gVir)"/>
<ellipse cx="-4.2" cy="4.2" rx="7.7" ry="5.9" fill="#C070A8" fill-opacity="0.45" filter="url(#fB2)"/>
</g>
<g transform="translate(1245,2583)" filter="url(#fBv)">
<path d="M25.2,0.0 L31.4,0.0 M22.8,10.7 L30.2,14.2 M16.1,19.4 L22.5,27.2 M11.2,22.6 L14.0,28.1 M0.6,25.2 L0.8,33.3 M-10.2,23.0 L-14.3,32.3 M-15.2,20.1 L-18.9,25.0 M-22.3,11.7 L-29.5,15.5 M-25.2,1.1 L-35.2,1.6 M-24.8,-4.6 L-30.8,-5.8 M-20.4,-14.7 L-27.0,-19.5 M-12.2,-22.0 L-17.1,-30.8 M-6.9,-24.2 L-8.6,-30.2 M4.1,-24.9 L5.4,-32.9 M14.3,-20.8 L20.0,-29.1 M18.6,-17.0 L23.2,-21.1 M24.1,-7.4 L31.8,-9.8 " stroke="#D0609E" stroke-width="2.0" fill="none" stroke-opacity="0.9"/>
<circle cx="31.4" cy="0.0" r="1.8" fill="#DA5C96"/>
<circle cx="30.2" cy="14.2" r="1.8" fill="#DA5C96"/>
<circle cx="22.5" cy="27.2" r="1.8" fill="#DA5C96"/>
<circle cx="14.0" cy="28.1" r="1.8" fill="#DA5C96"/>
<circle cx="0.8" cy="33.3" r="1.8" fill="#DA5C96"/>
<circle cx="-14.3" cy="32.3" r="1.8" fill="#DA5C96"/>
<circle cx="-18.9" cy="25.0" r="1.8" fill="#DA5C96"/>
<circle cx="-29.5" cy="15.5" r="1.8" fill="#DA5C96"/>
<circle cx="-35.2" cy="1.6" r="1.8" fill="#DA5C96"/>
<circle cx="-30.8" cy="-5.8" r="1.8" fill="#DA5C96"/>
<circle cx="-27.0" cy="-19.5" r="1.8" fill="#DA5C96"/>
<circle cx="-17.1" cy="-30.8" r="1.8" fill="#DA5C96"/>
<circle cx="-8.6" cy="-30.2" r="1.8" fill="#DA5C96"/>
<circle cx="5.4" cy="-32.9" r="1.8" fill="#DA5C96"/>
<circle cx="20.0" cy="-29.1" r="1.8" fill="#DA5C96"/>
<circle cx="23.2" cy="-21.1" r="1.8" fill="#DA5C96"/>
<circle cx="31.8" cy="-9.8" r="1.8" fill="#DA5C96"/>
<circle cx="0" cy="0" r="28" fill="url(#gVir)"/>
<ellipse cx="-7" cy="7" rx="12.6" ry="9.8" fill="#C070A8" fill-opacity="0.45" filter="url(#fB2)"/>
</g>
<g transform="translate(1405,2563)" filter="url(#fBv)">
<path d="M34.2,0.0 L42.6,0.0 M32.2,11.5 L42.6,15.2 M26.5,21.7 L37.0,30.3 M23.3,25.0 L29.0,31.1 M13.6,31.4 L18.0,41.5 M2.2,34.1 L3.1,47.8 M-2.3,34.1 L-2.9,42.5 M-13.7,31.3 L-18.1,41.4 M-23.4,24.9 L-32.8,34.9 M-26.5,21.6 L-33.0,26.9 M-32.2,11.4 L-42.6,15.1 M-34.2,-0.1 L-47.9,-0.1 M-33.9,-4.7 L-42.2,-5.8 M-30.3,-15.8 L-40.1,-20.9 M-23.3,-25.1 L-32.6,-35.1 M-19.7,-27.9 L-24.5,-34.8 M-9.2,-32.9 L-12.1,-43.6 M2.4,-34.1 L3.4,-47.8 M7.0,-33.5 L8.7,-41.7 M17.8,-29.2 L23.6,-38.6 M26.6,-21.5 L37.2,-30.1 M29.2,-17.8 L36.4,-22.1 M33.5,-6.9 L44.3,-9.1 " stroke="#D0609E" stroke-width="2.7" fill="none" stroke-opacity="0.9"/>
<circle cx="42.6" cy="0.0" r="2.5" fill="#DA5C96"/>
<circle cx="42.6" cy="15.2" r="2.5" fill="#DA5C96"/>
<circle cx="37.0" cy="30.3" r="2.5" fill="#DA5C96"/>
<circle cx="29.0" cy="31.1" r="2.5" fill="#DA5C96"/>
<circle cx="18.0" cy="41.5" r="2.5" fill="#DA5C96"/>
<circle cx="3.1" cy="47.8" r="2.5" fill="#DA5C96"/>
<circle cx="-2.9" cy="42.5" r="2.5" fill="#DA5C96"/>
<circle cx="-18.1" cy="41.4" r="2.5" fill="#DA5C96"/>
<circle cx="-32.8" cy="34.9" r="2.5" fill="#DA5C96"/>
<circle cx="-33.0" cy="26.9" r="2.5" fill="#DA5C96"/>
<circle cx="-42.6" cy="15.1" r="2.5" fill="#DA5C96"/>
<circle cx="-47.9" cy="-0.1" r="2.5" fill="#DA5C96"/>
<circle cx="-42.2" cy="-5.8" r="2.5" fill="#DA5C96"/>
<circle cx="-40.1" cy="-20.9" r="2.5" fill="#DA5C96"/>
<circle cx="-32.6" cy="-35.1" r="2.5" fill="#DA5C96"/>
<circle cx="-24.5" cy="-34.8" r="2.5" fill="#DA5C96"/>
<circle cx="-12.1" cy="-43.6" r="2.5" fill="#DA5C96"/>
<circle cx="3.4" cy="-47.8" r="2.5" fill="#DA5C96"/>
<circle cx="8.7" cy="-41.7" r="2.5" fill="#DA5C96"/>
<circle cx="23.6" cy="-38.6" r="2.5" fill="#DA5C96"/>
<circle cx="37.2" cy="-30.1" r="2.5" fill="#DA5C96"/>
<circle cx="36.4" cy="-22.1" r="2.5" fill="#DA5C96"/>
<circle cx="44.3" cy="-9.1" r="2.5" fill="#DA5C96"/>
<circle cx="0" cy="0" r="38" fill="url(#gVir)"/>
<ellipse cx="-9.5" cy="9.5" rx="17.1" ry="13.3" fill="#C070A8" fill-opacity="0.45" filter="url(#fB2)"/>
</g>
<g transform="translate(1212.5,2518) rotate(-40)">
<ellipse cx="0" cy="0" rx="65" ry="32.5" fill="#8FA8E8" fill-opacity="0.28" filter="url(#fB2)"/>
<path d="M-58,0 C-58,-28.749999999999996 -11.600000000000001,-27.500000000000004 31.900000000000002,-20.0 C59.160000000000004,-13.750000000000002 60.900000000000006,8.75 34.8,18.75 C5.800000000000001,30.0 -58,27.500000000000004 -58,0 Z" fill="url(#gPar)" fill-opacity="0.8" filter="url(#fB1)"/>
<path d="M-58,0 C-58,-28.749999999999996 -11.600000000000001,-27.500000000000004 31.900000000000002,-20.0 C59.160000000000004,-13.750000000000002 60.900000000000006,8.75 34.8,18.75 C5.800000000000001,30.0 -58,27.500000000000004 -58,0 Z" fill="url(#pDots)" fill-opacity="0.85" transform="scale(0.9)"/>
<ellipse cx="14.5" cy="0" rx="9.3" ry="7.5" fill="#B070E8" fill-opacity="0.8" filter="url(#fB1)"/>
</g>
<g transform="translate(1175,2605.5) rotate(30)">
<ellipse cx="0" cy="0" rx="42.6" ry="19.5" fill="#8FA8E8" fill-opacity="0.28" filter="url(#fB2)"/>
<path d="M-38,0 C-38,-17.25 -7.6000000000000005,-16.5 20.900000000000002,-12.0 C38.76,-8.25 39.9,5.25 22.8,11.25 C3.8000000000000003,18.0 -38,16.5 -38,0 Z" fill="url(#gPar)" fill-opacity="0.8" filter="url(#fB1)"/>
<path d="M-38,0 C-38,-17.25 -7.6000000000000005,-16.5 20.900000000000002,-12.0 C38.76,-8.25 39.9,5.25 22.8,11.25 C3.8000000000000003,18.0 -38,16.5 -38,0 Z" fill="url(#pDots)" fill-opacity="0.85" transform="scale(0.9)"/>
<ellipse cx="9.5" cy="0" rx="6.1" ry="4.5" fill="#B070E8" fill-opacity="0.8" filter="url(#fB1)"/>
</g>
<circle cx="1180" cy="2795.5" r="164.4" fill="url(#gHalo)" clip-path="url(#cRivW)"/>
<g transform="translate(1180,2795.5) rotate(-8) scale(97.4,107)">
<circle cx="0" cy="0" r="1" fill="#74941A"/>
<circle cx="0" cy="0" r="0.995" fill="none" stroke="#8CA82E" stroke-width="0.03"/>
<g clip-path="url(#cUnit)">
<circle cx="0" cy="0" r="0.87" fill="url(#gSph)"/>
<g filter="url(#fBu)">
<path d="M0,0.08 L0.788,-0.368 A0.87,0.87 0 0 1 0.713,0.499 Z" fill="#4E6A00" fill-opacity="0.55"/>
<path d="M0,0.08 L0.713,0.499 A0.87,0.87 0 0 1 0.151,0.857 Z" fill="#6A8A00" fill-opacity="0.25"/>
<path d="M0,0.08 L-0.076,0.867 A0.87,0.87 0 0 1 -0.840,0.225 Z" fill="#E8FF30" fill-opacity="0.5"/>
<path d="M0,0.08 L-0.840,0.225 A0.87,0.87 0 0 1 -0.713,-0.499 Z" fill="#B8E010" fill-opacity="0.25"/>
<path d="M0,0.08 L-0.368,-0.788 A0.87,0.87 0 0 1 0.408,-0.768 Z" fill="#F4FF50" fill-opacity="0.45"/>
<path d="M0,0.08 L0.408,-0.768 A0.87,0.87 0 0 1 0.788,-0.368 Z" fill="#86A808" fill-opacity="0.3"/>
</g>
<ellipse cx="0.0" cy="-0.62" rx="0.22" ry="0.14" fill="#FBFF60" fill-opacity="0.85" filter="url(#fBu2)"/>
<ellipse cx="-0.05" cy="0.1" rx="0.1" ry="0.07" fill="#F4FF50" fill-opacity="0.8" filter="url(#fBu2)"/>
<circle cx="0" cy="0" r="0.9" fill="none" stroke="#7C9C10" stroke-width="0.05" stroke-opacity="0.55"/>
</g></g>
</g>
<g>
<g>
<rect x="1078" y="650" width="165" height="20" fill="#E9E1CA"/>
<rect x="1150" y="628" width="90" height="24" fill="#E9E1CA"/>
<rect x="1132" y="250" width="33" height="420" fill="url(#lat)"/>
<path d="M1133.5,250 V670 M1163.5,250 V670 M1148.5,250 V670" stroke="#E9E1CA" stroke-width="3.6" fill="none"/>
<path d="M1140,560 L1120,650 M1158,560 L1190,650 M1150,560 L1175,650" stroke="#E9E1CA" stroke-width="4" fill="none"/>
<path d="M1161.5,160 L1131.5,252 L1165,252 Z" fill="#F3EEDF" stroke="#E9E1CA" stroke-width="3.5" stroke-linejoin="round"/>
<path d="M1157.9,171 L1165,168 M1157.9,169.8 L1165,171 M1154.6,181.2 L1165,177.1 M1154.6,178.9 L1165,181.2 M1151.3,191.3 L1165,186.2 M1151.3,187.9 L1165,191.3 M1148,201.4 L1165,195.3 M1148,196.9 L1165,201.4 M1144.7,211.5 L1165,204.5 M1144.7,205.9 L1165,211.5 M1141.4,221.6 L1165,213.6 M1141.4,214.9 L1165,221.6 M1138.1,231.8 L1165,222.7 M1138.1,224 L1165,231.8 M1134.8,241.9 L1165,231.9 M1134.8,233 L1165,241.9 M1131.5,252 L1165,241 M1131.5,242 L1165,252 " stroke="#E9E1CA" stroke-width="3" fill="none"/>
<path d="M1161.5,160 L1146,252" stroke="#E9E1CA" stroke-width="3.5"/>
<path d="M852,235.5 L921,206 L1134,251.5 L1134,268 Z" fill="#F6F1E4" stroke="#E9E1CA" stroke-width="4.2" stroke-linejoin="round"/>
<path d="M875,238.2 L886.9,220.6 M875,225.7 L886.9,239.5 M886.9,239.5 L904.8,212.9 M886.9,220.6 L904.8,241.6 M904.8,241.6 L932.1,208.4 M904.8,212.9 L932.1,244.7 M932.1,244.7 L966.6,215.7 M932.1,208.4 L966.6,248.7 M966.6,248.7 L997.9,222.4 M966.6,215.7 L997.9,252.3 M997.9,252.3 L1026.3,228.5 M997.9,222.4 L1026.3,255.6 M1026.3,255.6 L1052.1,234 M1026.3,228.5 L1052.1,258.6 M1052.1,258.6 L1075.4,239 M1052.1,234 L1075.4,261.2 M1075.4,261.2 L1096.5,243.5 M1075.4,239 L1096.5,263.7 M1096.5,263.7 L1115.7,247.6 M1096.5,243.5 L1115.7,265.9 M1115.7,265.9 L1133.1,251.3 M1115.7,247.6 L1133.1,267.9 " stroke="#E9E1CA" stroke-width="3.2" fill="none"/>
<path d="M1165,251.5 L1205.5,241 L1165,268 Z" fill="#F6F1E4" stroke="#E9E1CA" stroke-width="3.6" stroke-linejoin="round"/>
<path d="M1172,250 L1176,261 M1180,248 L1186,254 M1176,261 L1186,246 M1170,265 L1176,249" stroke="#E9E1CA" stroke-width="2.6" fill="none"/>
<rect x="1121" y="265" width="29" height="24" fill="#E9E1CA"/>
<path d="M1161.5,160 L962.5,215 M1163,160 L1205.7,239 M1205.7,239 V566" stroke="#E9E1CA" stroke-width="1.6" fill="none"/>
<path d="M947.4,247 V292 M959.4,249 V292 M953.4,248 V292" stroke="#E9E1CA" stroke-width="1.6" fill="none"/>
<circle cx="953.6" cy="299.6" r="10" fill="#E9E1CA"/>
</g>
<path d="M527,670 C534,620 541,560 545,500 L547,463 Q560,454.5 574,463 C577,520 582,570 587.5,605 L613.3,583.5 L621.8,615.5 L655,585 L663.3,614.5 L696.5,587 L701.5,670 Z" fill="#D9A5CC"/>
<ellipse cx="590" cy="425" rx="20.5" ry="20.5" fill="#D9A5CC"/>
<ellipse cx="612.5" cy="406.2" rx="23" ry="23" fill="#D9A5CC"/>
<ellipse cx="640" cy="400" rx="23" ry="23" fill="#D9A5CC"/>
<ellipse cx="665.5" cy="415.5" rx="18" ry="25" fill="#D9A5CC"/>
<ellipse cx="636.2" cy="427.5" rx="22" ry="22" fill="#D9A5CC"/>
<ellipse cx="588.8" cy="433.2" rx="19.5" ry="19.5" fill="#D9A5CC"/>
<ellipse cx="620" cy="417.5" rx="22.5" ry="17.5" fill="#D9A5CC"/>
<path d="M558.8,453 Q564.5,440 571.2,430 L585,445 Q575,448.8 565,447.5 Q560.5,449.5 558.8,453Z" fill="#D9A5CC"/>
<rect x="716.3" y="473.3" width="89.5" height="197" fill="#0391D2"/>
<rect x="723.8" y="490" width="18" height="18" fill="#FDF8F4"/><rect x="723.8" y="517" width="18" height="18.5" fill="#FDF8F4"/><rect x="723.8" y="544.3" width="18" height="18.2" fill="#FDF8F4"/><rect x="751.3" y="490" width="18" height="18" fill="#FDF8F4"/><rect x="751.3" y="517" width="18" height="18.5" fill="#FDF8F4"/><rect x="751.3" y="544.3" width="18" height="18.2" fill="#FDF8F4"/><rect x="778.8" y="490" width="18" height="18" fill="#FDF8F4"/><rect x="778.8" y="517" width="18" height="18.5" fill="#FDF8F4"/><rect x="778.8" y="544.3" width="18" height="18.2" fill="#FDF8F4"/>
<rect x="821.3" y="410.8" width="94.5" height="260" fill="#6FBE4F"/>
<rect x="833" y="432" width="17.5" height="23.5" fill="#FDF8F4"/><rect x="833" y="466.8" width="17.5" height="23.2" fill="#FDF8F4"/><rect x="833" y="501.3" width="17.5" height="23.2" fill="#FDF8F4"/><rect x="833" y="535.8" width="17.5" height="23.2" fill="#FDF8F4"/><rect x="833" y="569.3" width="17.5" height="22.7" fill="#FDF8F4"/><rect x="833" y="603.3" width="17.5" height="23" fill="#FDF8F4"/><rect x="833" y="637.5" width="17.5" height="23" fill="#FDF8F4"/><rect x="859.3" y="432" width="17.5" height="23.5" fill="#FDF8F4"/><rect x="859.3" y="466.8" width="17.5" height="23.2" fill="#FDF8F4"/><rect x="859.3" y="501.3" width="17.5" height="23.2" fill="#FDF8F4"/><rect x="859.3" y="535.8" width="17.5" height="23.2" fill="#FDF8F4"/><rect x="859.3" y="569.3" width="17.5" height="22.7" fill="#FDF8F4"/><rect x="859.3" y="603.3" width="17.5" height="23" fill="#FDF8F4"/><rect x="859.3" y="637.5" width="17.5" height="23" fill="#FDF8F4"/><rect x="885" y="432" width="17.5" height="23.5" fill="#FDF8F4"/><rect x="885" y="466.8" width="17.5" height="23.2" fill="#FDF8F4"/><rect x="885" y="501.3" width="17.5" height="23.2" fill="#FDF8F4"/><rect x="885" y="535.8" width="17.5" height="23.2" fill="#FDF8F4"/><rect x="885" y="569.3" width="17.5" height="22.7" fill="#FDF8F4"/><rect x="885" y="603.3" width="17.5" height="23" fill="#FDF8F4"/><rect x="885" y="637.5" width="17.5" height="23" fill="#FDF8F4"/>
<path d="M923.3,670 V491.3 L962,448.3 L1000.8,491.3 V670 Z" fill="#7BB083"/>
<rect x="933" y="503.3" width="14" height="17.2" fill="#FDF8F4"/><rect x="933" y="528.5" width="14" height="17.3" fill="#FDF8F4"/><rect x="933" y="553.8" width="14" height="17.2" fill="#FDF8F4"/><rect x="933" y="578.8" width="14" height="17" fill="#FDF8F4"/><rect x="933" y="603" width="14" height="17" fill="#FDF8F4"/><rect x="933" y="628" width="14" height="17" fill="#FDF8F4"/><rect x="933" y="653" width="14" height="17" fill="#FDF8F4"/><rect x="954.3" y="503.3" width="14" height="17.2" fill="#FDF8F4"/><rect x="954.3" y="528.5" width="14" height="17.3" fill="#FDF8F4"/><rect x="954.3" y="553.8" width="14" height="17.2" fill="#FDF8F4"/><rect x="954.3" y="578.8" width="14" height="17" fill="#FDF8F4"/><rect x="954.3" y="603" width="14" height="17" fill="#FDF8F4"/><rect x="954.3" y="628" width="14" height="17" fill="#FDF8F4"/><rect x="954.3" y="653" width="14" height="17" fill="#FDF8F4"/><rect x="975.3" y="503.3" width="14" height="17.2" fill="#FDF8F4"/><rect x="975.3" y="528.5" width="14" height="17.3" fill="#FDF8F4"/><rect x="975.3" y="553.8" width="14" height="17.2" fill="#FDF8F4"/><rect x="975.3" y="578.8" width="14" height="17" fill="#FDF8F4"/><rect x="975.3" y="603" width="14" height="17" fill="#FDF8F4"/><rect x="975.3" y="628" width="14" height="17" fill="#FDF8F4"/><rect x="975.3" y="653" width="14" height="17" fill="#FDF8F4"/>
<path d="M1007.2,670 V508.8 H1024 V410.5 H1076.7 L1078.6,670 Z" fill="#BCCB67"/>
<rect x="1028.6" y="420.2" width="10.6" height="10.4" fill="#FDF8F4"/><rect x="1028.6" y="435.9" width="10.6" height="10.8" fill="#FDF8F4"/><rect x="1028.6" y="452" width="10.6" height="10.8" fill="#FDF8F4"/><rect x="1044.7" y="420.2" width="10.3" height="10.4" fill="#FDF8F4"/><rect x="1044.7" y="435.9" width="10.3" height="10.8" fill="#FDF8F4"/><rect x="1044.7" y="452" width="10.3" height="10.8" fill="#FDF8F4"/><rect x="1060.6" y="420.2" width="10.8" height="10.4" fill="#FDF8F4"/><rect x="1060.6" y="435.9" width="10.8" height="10.8" fill="#FDF8F4"/><rect x="1060.6" y="452" width="10.8" height="10.8" fill="#FDF8F4"/>
<rect x="1013.6" y="521.5" width="13.8" height="14.5" fill="#FDF8F4"/><rect x="1013.6" y="542.9" width="13.8" height="14.3" fill="#FDF8F4"/><rect x="1013.6" y="564.1" width="13.8" height="14.3" fill="#FDF8F4"/><rect x="1035" y="521.5" width="13.9" height="14.5" fill="#FDF8F4"/><rect x="1035" y="542.9" width="13.9" height="14.3" fill="#FDF8F4"/><rect x="1035" y="564.1" width="13.9" height="14.3" fill="#FDF8F4"/><rect x="1056.7" y="521.5" width="13.8" height="14.5" fill="#FDF8F4"/><rect x="1056.7" y="542.9" width="13.8" height="14.3" fill="#FDF8F4"/><rect x="1056.7" y="564.1" width="13.8" height="14.3" fill="#FDF8F4"/>
<rect x="1086.2" y="501.5" width="52.7" height="168.5" fill="#4BAC60"/>
<rect x="1094.7" y="510" width="14.9" height="15" fill="#FDF8F4"/><rect x="1094.7" y="531.9" width="14.9" height="15.6" fill="#FDF8F4"/><rect x="1115.8" y="510" width="15" height="15" fill="#FDF8F4"/><rect x="1115.8" y="531.9" width="15" height="15.6" fill="#FDF8F4"/>
<rect x="1230.5" y="488.1" width="90.5" height="182" fill="#008365"/>
<rect x="1238.5" y="504.7" width="17.8" height="18.4" fill="#FDF8F4"/><rect x="1238.5" y="531.9" width="17.8" height="18.4" fill="#FDF8F4"/><rect x="1238.5" y="559" width="17.8" height="18.4" fill="#FDF8F4"/><rect x="1266.2" y="504.7" width="17.5" height="18.4" fill="#FDF8F4"/><rect x="1266.2" y="531.9" width="17.5" height="18.4" fill="#FDF8F4"/><rect x="1266.2" y="559" width="17.5" height="18.4" fill="#FDF8F4"/><rect x="1293.3" y="504.7" width="17.7" height="18.4" fill="#FDF8F4"/><rect x="1293.3" y="531.9" width="17.7" height="18.4" fill="#FDF8F4"/><rect x="1293.3" y="559" width="17.7" height="18.4" fill="#FDF8F4"/>
<path d="M1113.8,594H1170V670H1113.8ZM1123,603.2H1138.4V619.3H1123ZM1123,626.2H1138.4V642.8H1123ZM1145.8,603.2H1161.7V619.3H1145.8ZM1145.8,626.2H1161.7V642.8H1145.8Z" fill="#978BC1" fill-rule="evenodd"/>
<path d="M1173.6,566.9H1246.6V670H1173.6ZM1182.8,579.7H1197.1V594.5H1182.8ZM1182.8,600.5H1197.1V615.2H1182.8ZM1182.8,621.2H1197.1V636.1H1182.8ZM1202.9,579.7H1217.1V594.5H1202.9ZM1202.9,600.5H1217.1V615.2H1202.9ZM1202.9,621.2H1217.1V636.1H1202.9ZM1222.4,579.7H1236.9V594.5H1222.4ZM1222.4,600.5H1236.9V615.2H1222.4ZM1222.4,621.2H1236.9V636.1H1222.4Z" fill="#B6C4E5" fill-rule="evenodd"/>
<rect x="492" y="670" width="860" height="22.5" fill="#7AAF80"/>
</g>
<g transform="translate(164,202) scale(1,1.065)">
<circle cx="0" cy="0" r="92" fill="#ED9027"/>
<g transform="rotate(0)"><path d="M0,-163 L28.5,-113.5 Q0,-125.5 -28.5,-113.5 Z" fill="#F2AA42" stroke="#F2AA42" stroke-width="8" stroke-linejoin="round"/></g>
<g transform="rotate(40)"><path d="M0,-163 L28.5,-113.5 Q0,-125.5 -28.5,-113.5 Z" fill="#F2AA42" stroke="#F2AA42" stroke-width="8" stroke-linejoin="round"/></g>
<g transform="rotate(80)"><path d="M0,-163 L28.5,-113.5 Q0,-125.5 -28.5,-113.5 Z" fill="#F2AA42" stroke="#F2AA42" stroke-width="8" stroke-linejoin="round"/></g>
<g transform="rotate(120)"><path d="M0,-163 L28.5,-113.5 Q0,-125.5 -28.5,-113.5 Z" fill="#F2AA42" stroke="#F2AA42" stroke-width="8" stroke-linejoin="round"/></g>
<g transform="rotate(160)"><path d="M0,-163 L28.5,-113.5 Q0,-125.5 -28.5,-113.5 Z" fill="#F2AA42" stroke="#F2AA42" stroke-width="8" stroke-linejoin="round"/></g>
<g transform="rotate(200)"><path d="M0,-163 L28.5,-113.5 Q0,-125.5 -28.5,-113.5 Z" fill="#F2AA42" stroke="#F2AA42" stroke-width="8" stroke-linejoin="round"/></g>
<g transform="rotate(240)"><path d="M0,-163 L28.5,-113.5 Q0,-125.5 -28.5,-113.5 Z" fill="#F2AA42" stroke="#F2AA42" stroke-width="8" stroke-linejoin="round"/></g>
<g transform="rotate(280)"><path d="M0,-163 L28.5,-113.5 Q0,-125.5 -28.5,-113.5 Z" fill="#F2AA42" stroke="#F2AA42" stroke-width="8" stroke-linejoin="round"/></g>
<g transform="rotate(320)"><path d="M0,-163 L28.5,-113.5 Q0,-125.5 -28.5,-113.5 Z" fill="#F2AA42" stroke="#F2AA42" stroke-width="8" stroke-linejoin="round"/></g>
</g>
<text class="sb" x="1227" y="124" font-size="133.3">Cyanobacteria-rich environments</text>
<rect x="1638" y="490.5" width="1046" height="201.5" fill="#ECECEC"/>
<rect x="2858" y="490.5" width="1315" height="202" fill="#ECECEC"/>
<path d="M2674.8,571.5 L2832,571.5 L2832,547 L2879.5,597 L2832,647 L2832,619.5 L2674.8,619.5 Z" fill="#E7E6E6" stroke="#9DC3E6" stroke-width="7" stroke-linejoin="miter"/>
<text class="sb" x="1700" y="630" font-size="116.6">Community shift</text>
<text class="sb" x="2926" y="632" font-size="116.6">Resistance dynamics</text>
<text class="sr" x="154.5" y="1067" font-size="116.6">Bacteria</text>
<text class="sr" x="103" y="1262" font-size="116.6">Antibiotics</text>
<text class="sr" x="57" y="1881" font-size="116.6">Cyanobacteria</text>
<text class="sb" x="1601.5" y="2550" font-size="116.6">Antibiotics reshaped cyanobacterial suppression</text>
<text class="sb" x="1600.5" y="2690" font-size="116.6">of ARB, lowering ARB abundance reduction from</text>
<text class="sb" x="1600.5" y="2831.5" font-size="116.6">~93% to &lt;80%.</text>
<g>
<rect x="1437" y="742.9" width="60" height="34.8" fill="#C19189"/>
<text class="se" transform="translate(1521,773.3) scale(1.22,1)" font-size="41.7" text-anchor="start" stroke="#000" stroke-width="0.9">Others</text>
<rect x="1437" y="789" width="60" height="34.8" fill="#CCCCCC"/>
<text class="se" transform="translate(1521,819.4) scale(1.22,1)" font-size="41.7" text-anchor="start" stroke="#000" stroke-width="0.9">Patescibacteria</text>
<rect x="1437" y="835.1" width="60" height="34.8" fill="#866851"/>
<text class="se" transform="translate(1521,865.5) scale(1.22,1)" font-size="41.7" text-anchor="start" stroke="#000" stroke-width="0.9">Verrucomicrobiota</text>
<rect x="1437" y="881.2" width="60" height="34.8" fill="#DD0C0C"/>
<text class="se" transform="translate(1521,911.6) scale(1.22,1)" font-size="41.7" text-anchor="start" stroke="#000" stroke-width="0.9">Chloroflexi</text>
<rect x="1949" y="742.9" width="60" height="34.8" fill="#F19E83"/>
<text class="se" transform="translate(2033,773.3) scale(1.22,1)" font-size="41.7" text-anchor="start" stroke="#000" stroke-width="0.9">Armatimonadota</text>
<rect x="1949" y="789" width="60" height="34.8" fill="#8A97B7"/>
<text class="se" transform="translate(2033,819.4) scale(1.22,1)" font-size="41.7" text-anchor="start" stroke="#000" stroke-width="0.9">Actinobacteriota</text>
<rect x="1949" y="835.1" width="60" height="34.8" fill="#99D2C2"/>
<text class="se" transform="translate(2033,865.5) scale(1.22,1)" font-size="41.7" text-anchor="start" stroke="#000" stroke-width="0.9">Deinococcota</text>
<rect x="1949" y="881.2" width="60" height="34.8" fill="#465C8F"/>
<text class="se" transform="translate(2033,911.6) scale(1.22,1)" font-size="41.7" text-anchor="start" stroke="#000" stroke-width="0.9">Firmicutes</text>
<rect x="2413" y="742.9" width="60" height="34.8" fill="#EE7447"/>
<text class="se" transform="translate(2497,773.3) scale(1.22,1)" font-size="41.7" text-anchor="start" stroke="#000" stroke-width="0.9">Proteobacteria</text>
<rect x="2413" y="789" width="60" height="34.8" fill="#55BCD6"/>
<text class="se" transform="translate(2497,819.4) scale(1.22,1)" font-size="41.7" text-anchor="start" stroke="#000" stroke-width="0.9">Cyanobacteria</text>
<rect x="2413" y="835.1" width="60" height="34.8" fill="#0FA28A"/>
<text class="se" transform="translate(2497,865.5) scale(1.22,1)" font-size="41.7" text-anchor="start" stroke="#000" stroke-width="0.9">Bacteroidota</text>
<rect x="1636.9" y="1660.5" width="105" height="433.7" fill="#EE7447"/>
<rect x="1636.9" y="1096.3" width="105" height="564.7" fill="#55BCD6"/>
<rect x="1636.9" y="985.8" width="105" height="111" fill="#0FA28A"/>
<rect x="1636.9" y="983" width="105" height="3.3" fill="#F19E83"/>
<rect x="1787.2" y="1443.9" width="105" height="650.3" fill="#EE7447"/>
<rect x="1787.2" y="1025.8" width="105" height="418.7" fill="#55BCD6"/>
<rect x="1787.2" y="989.1" width="105" height="37.2" fill="#0FA28A"/>
<rect x="1787.2" y="983" width="105" height="6.6" fill="#465C8F"/>
<rect x="1938" y="1443.9" width="105" height="650.3" fill="#EE7447"/>
<rect x="1938" y="1095.2" width="105" height="349.3" fill="#55BCD6"/>
<rect x="1938" y="990.8" width="105" height="104.9" fill="#0FA28A"/>
<rect x="1938" y="983" width="105" height="8.3" fill="#465C8F"/>
<rect x="2088.4" y="1525.6" width="105" height="568.6" fill="#EE7447"/>
<rect x="2088.4" y="1314" width="105" height="212.1" fill="#55BCD6"/>
<rect x="2088.4" y="989.7" width="105" height="324.8" fill="#0FA28A"/>
<rect x="2088.4" y="983" width="105" height="7.2" fill="#465C8F"/>
<rect x="2238.3" y="1362.3" width="105" height="731.9" fill="#EE7447"/>
<rect x="2238.3" y="1040.2" width="105" height="322.6" fill="#55BCD6"/>
<rect x="2238.3" y="989.7" width="105" height="51" fill="#0FA28A"/>
<rect x="2238.3" y="983" width="105" height="7.2" fill="#465C8F"/>
<rect x="2388.5" y="1476.2" width="105" height="618" fill="#EE7447"/>
<rect x="2388.5" y="1270.1" width="105" height="206.5" fill="#55BCD6"/>
<rect x="2388.5" y="987.4" width="105" height="283.2" fill="#0FA28A"/>
<rect x="2388.5" y="983" width="105" height="4.9" fill="#465C8F"/>
<rect x="2538.2" y="1522.8" width="105" height="571.4" fill="#EE7447"/>
<rect x="2538.2" y="1458.4" width="105" height="64.9" fill="#55BCD6"/>
<rect x="2538.2" y="994.1" width="105" height="464.8" fill="#0FA28A"/>
<rect x="2538.2" y="983" width="105" height="11.6" fill="#465C8F"/>
<rect x="1765.6" y="983" width="3.8" height="1110.7" fill="#233CF0"/>
<rect x="2210.9" y="983" width="3.8" height="1110.7" fill="#233CF0"/>
<path d="M1615.2,983 H2667 V2093.7 H1615.2 Z" fill="none" stroke="#000" stroke-width="4.3"/>
<path d="M1593,2093.7 H1615.2" stroke="#000" stroke-width="4.3"/>
<text class="se" transform="translate(1577.5,2112.2) scale(1.22,1)" font-size="56.3" text-anchor="end" stroke="#000" stroke-width="0.9">0</text>
<path d="M1593,1871.6 H1615.2" stroke="#000" stroke-width="4.3"/>
<text class="se" transform="translate(1577.5,1890.1) scale(1.22,1)" font-size="56.3" text-anchor="end" stroke="#000" stroke-width="0.9">20</text>
<path d="M1593,1649.4 H1615.2" stroke="#000" stroke-width="4.3"/>
<text class="se" transform="translate(1577.5,1667.9) scale(1.22,1)" font-size="56.3" text-anchor="end" stroke="#000" stroke-width="0.9">40</text>
<path d="M1593,1427.3 H1615.2" stroke="#000" stroke-width="4.3"/>
<text class="se" transform="translate(1577.5,1445.8) scale(1.22,1)" font-size="56.3" text-anchor="end" stroke="#000" stroke-width="0.9">60</text>
<path d="M1593,1205.1 H1615.2" stroke="#000" stroke-width="4.3"/>
<text class="se" transform="translate(1577.5,1223.6) scale(1.22,1)" font-size="56.3" text-anchor="end" stroke="#000" stroke-width="0.9">80</text>
<path d="M1593,983 H1615.2" stroke="#000" stroke-width="4.3"/>
<text class="se" transform="translate(1577.5,1001.5) scale(1.22,1)" font-size="56.3" text-anchor="end" stroke="#000" stroke-width="0.9">100</text>
<text class="se" transform="translate(1672.8,2154) scale(1.22,1)" font-size="56.3" text-anchor="middle" stroke="#000" stroke-width="0.9">0</text>
<text class="se" transform="translate(1831.4,2154) scale(1.22,1)" font-size="56.3" text-anchor="middle" stroke="#000" stroke-width="0.9">10</text>
<text class="se" transform="translate(1985.4,2154) scale(1.22,1)" font-size="56.3" text-anchor="middle" stroke="#000" stroke-width="0.9">20</text>
<text class="se" transform="translate(2143.3,2154) scale(1.22,1)" font-size="56.3" text-anchor="middle" stroke="#000" stroke-width="0.9">50</text>
<text class="se" transform="translate(2283.5,2154) scale(1.22,1)" font-size="56.3" text-anchor="middle" stroke="#000" stroke-width="0.9">10</text>
<text class="se" transform="translate(2437.6,2154) scale(1.22,1)" font-size="56.3" text-anchor="middle" stroke="#000" stroke-width="0.9">20</text>
<text class="se" transform="translate(2594.9,2154) scale(1.22,1)" font-size="56.3" text-anchor="middle" stroke="#000" stroke-width="0.9">50</text>
<path d="M1622.5,2162.5 H1725" stroke="#000" stroke-width="3"/>
<path d="M1778.5,2162.5 H2177.5" stroke="#000" stroke-width="3"/>
<path d="M2247.5,2162.5 H2629.5" stroke="#000" stroke-width="3"/>
<text class="se" transform="translate(1587.5,2245) scale(1.22,1)" font-size="56.3" text-anchor="start" stroke="#000" stroke-width="0.9">Control</text>
<text class="se" transform="translate(1905,2245) scale(1.22,1)" font-size="56.3" text-anchor="start" stroke="#000" stroke-width="0.9">SMX</text>
<text class="se" transform="translate(2400.5,2245) scale(1.22,1)" font-size="56.3" text-anchor="start" stroke="#000" stroke-width="0.9">TC</text>
<text class="se" transform="translate(1480.3,1510) rotate(-90)" font-size="60.8" text-anchor="middle" textLength="553" lengthAdjust="spacing" stroke="#000" stroke-width="0.5">Relative Abundance (%)</text>
</g>
<g>
<path d="M3015.3,1223.1 H4123 M3015.3,1354.2 H4123 M3015.3,1485.3 H4123 M3015.3,1616.4 H4123 M3015.3,1747.5 H4123 M3015.3,1878.6 H4123 M3291.2,1092 V2009.7 M3568.4,1092 V2009.7 M3846.3,1092 V2009.7 " stroke="#8c8c8c" stroke-width="1.3" fill="none"/>
<path d="M3015.3,1183.6 h7.5 M3015.3,1160.5 h7.5 M3015.3,1144.2 h7.5 M3015.3,1131.5 h7.5 M3015.3,1121.1 h7.5 M3015.3,1112.3 h7.5 M3015.3,1104.7 h7.5 M3015.3,1098 h7.5 M3015.3,1314.7 h7.5 M3015.3,1291.6 h7.5 M3015.3,1275.3 h7.5 M3015.3,1262.6 h7.5 M3015.3,1252.2 h7.5 M3015.3,1243.4 h7.5 M3015.3,1235.8 h7.5 M3015.3,1229.1 h7.5 M3015.3,1445.8 h7.5 M3015.3,1422.7 h7.5 M3015.3,1406.4 h7.5 M3015.3,1393.7 h7.5 M3015.3,1383.3 h7.5 M3015.3,1374.5 h7.5 M3015.3,1366.9 h7.5 M3015.3,1360.2 h7.5 M3015.3,1576.9 h7.5 M3015.3,1553.8 h7.5 M3015.3,1537.5 h7.5 M3015.3,1524.8 h7.5 M3015.3,1514.4 h7.5 M3015.3,1505.6 h7.5 M3015.3,1498 h7.5 M3015.3,1491.3 h7.5 M3015.3,1708 h7.5 M3015.3,1684.9 h7.5 M3015.3,1668.6 h7.5 M3015.3,1655.9 h7.5 M3015.3,1645.5 h7.5 M3015.3,1636.7 h7.5 M3015.3,1629.1 h7.5 M3015.3,1622.4 h7.5 M3015.3,1839.1 h7.5 M3015.3,1816 h7.5 M3015.3,1799.7 h7.5 M3015.3,1787 h7.5 M3015.3,1776.6 h7.5 M3015.3,1767.8 h7.5 M3015.3,1760.2 h7.5 M3015.3,1753.5 h7.5 M3015.3,1970.2 h7.5 M3015.3,1947.1 h7.5 M3015.3,1930.8 h7.5 M3015.3,1918.1 h7.5 M3015.3,1907.7 h7.5 M3015.3,1898.9 h7.5 M3015.3,1891.3 h7.5 M3015.3,1884.6 h7.5 " stroke="#000" stroke-width="2.8" fill="none"/>
<path d="M3015.3,1092 h15.5 M3015.3,1223.1 h15.5 M3015.3,1354.2 h15.5 M3015.3,1485.3 h15.5 M3015.3,1616.4 h15.5 M3015.3,1747.5 h15.5 M3015.3,1878.6 h15.5 M3015.3,2009.7 h15.5 M3153,2009.7 v14 M3429.8,2009.7 v14 M3707.2,2009.7 v14 M3984.6,2009.7 v14 " stroke="#000" stroke-width="3" fill="none"/>
<path d="M3084.3,1338.4 V1346.7 M3084.3,1654.2 V1790.8 M3073.8,1338.4 h21.0 M3073.8,1790.8 h21.0" stroke="#EB6468" stroke-width="3.1" fill="none"/>
<rect x="3069.3" y="1346.7" width="30" height="307.4" fill="#F5A39E" fill-opacity="0.93" stroke="#EF8585" stroke-width="3"/>
<path d="M3068.3,1394.8 H3100.3" stroke="#000" stroke-width="3.2"/>
<path d="M3181.5,1338.4 V1355.1 M3181.5,1633.2 V1763.6 M3171,1338.4 h21.0 M3171,1763.6 h21.0" stroke="#4696C8" stroke-width="3.1" fill="none"/>
<rect x="3166.2" y="1355.1" width="30.7" height="278.1" fill="#9DC1D5" fill-opacity="0.93" stroke="#62A3CB" stroke-width="3"/>
<path d="M3165.2,1399.7 H3197.9" stroke="#000" stroke-width="3.2"/>
<path d="M3361.4,1284 V1327.9 M3361.4,1504.3 V1617.2 M3350.9,1284 h21.0 M3350.9,1617.2 h21.0" stroke="#EB6468" stroke-width="3.1" fill="none"/>
<rect x="3346.1" y="1327.9" width="30.7" height="176.4" fill="#F5A39E" fill-opacity="0.93" stroke="#EF8585" stroke-width="3"/>
<path d="M3345.1,1425.5 H3377.7" stroke="#000" stroke-width="3.2"/>
<path d="M3458.3,1288.9 V1323.7 M3458.3,1560 V1631.8 M3447.8,1288.9 h21.0 M3447.8,1631.8 h21.0" stroke="#4696C8" stroke-width="3.1" fill="none"/>
<rect x="3442.9" y="1323.7" width="30.7" height="236.3" fill="#9DC1D5" fill-opacity="0.93" stroke="#62A3CB" stroke-width="3"/>
<path d="M3441.9,1424.8 H3474.6" stroke="#000" stroke-width="3.2"/>
<path d="M3638.5,1268 V1283.3 M3638.5,1631.1 V1654.2 M3628,1268 h21.0 M3628,1654.2 h21.0" stroke="#EB6468" stroke-width="3.1" fill="none"/>
<rect x="3623.5" y="1283.3" width="30" height="347.9" fill="#F5A39E" fill-opacity="0.93" stroke="#EF8585" stroke-width="3"/>
<path d="M3622.5,1366.2 H3654.5" stroke="#000" stroke-width="3.2"/>
<path d="M3735,1261.7 V1282.6 M3735,1567.7 V1613 M3724.5,1261.7 h21.0 M3724.5,1613 h21.0" stroke="#4696C8" stroke-width="3.1" fill="none"/>
<rect x="3719.7" y="1282.6" width="30.7" height="285.1" fill="#9DC1D5" fill-opacity="0.93" stroke="#62A3CB" stroke-width="3"/>
<path d="M3718.7,1334.9 H3751.4" stroke="#000" stroke-width="3.2"/>
<path d="M3915.2,1429 V1442.2 M3915.2,1728 V1808.2 M3904.7,1429 h21.0 M3904.7,1808.2 h21.0" stroke="#EB6468" stroke-width="3.1" fill="none"/>
<rect x="3900.3" y="1442.2" width="30" height="285.8" fill="#F5A39E" fill-opacity="0.93" stroke="#EF8585" stroke-width="3"/>
<path d="M3899.3,1475 H3931.2" stroke="#000" stroke-width="3.2"/>
<path d="M4012.1,1388.6 V1434.6 M4012.1,1705 V1767.1 M4001.6,1388.6 h21.0 M4001.6,1767.1 h21.0" stroke="#4696C8" stroke-width="3.1" fill="none"/>
<rect x="3997.1" y="1434.6" width="30" height="270.5" fill="#9DC1D5" fill-opacity="0.93" stroke="#62A3CB" stroke-width="3"/>
<path d="M3996.1,1459 H4028.1" stroke="#000" stroke-width="3.2"/>
<path d="M3051.2,1354.2 H4123" stroke="#0808FF" stroke-width="3.7" stroke-dasharray="18.8,18.15" fill="none"/>
<circle cx="3120.2" cy="1338.4" r="5.5" fill="#F6BEC3"/>
<circle cx="3126.5" cy="1346.7" r="5.5" fill="#F6BEC3"/>
<circle cx="3128.6" cy="1362.1" r="5.5" fill="#F6BEC3"/>
<circle cx="3134.1" cy="1370.4" r="5.5" fill="#F6BEC3"/>
<circle cx="3111.8" cy="1385.1" r="5.5" fill="#F6BEC3"/>
<circle cx="3123" cy="1394.1" r="5.5" fill="#F6BEC3"/>
<circle cx="3117.4" cy="1401.1" r="5.5" fill="#F6BEC3"/>
<circle cx="3120.9" cy="1615.8" r="5.5" fill="#F6BEC3"/>
<circle cx="3110.4" cy="1631.1" r="5.5" fill="#F6BEC3"/>
<circle cx="3115.3" cy="1654.8" r="5.5" fill="#F6BEC3"/>
<circle cx="3125.8" cy="1766.4" r="5.5" fill="#F6BEC3"/>
<circle cx="3136.9" cy="1780.3" r="5.5" fill="#F6BEC3"/>
<circle cx="3131.3" cy="1791.5" r="5.5" fill="#F6BEC3"/>
<circle cx="3400.4" cy="1247.7" r="5.5" fill="#F6BEC3"/>
<circle cx="3400.4" cy="1283.3" r="5.5" fill="#F6BEC3"/>
<circle cx="3400.4" cy="1297.2" r="5.5" fill="#F6BEC3"/>
<circle cx="3401.8" cy="1327.9" r="5.5" fill="#F6BEC3"/>
<circle cx="3398.3" cy="1341.2" r="5.5" fill="#F6BEC3"/>
<circle cx="3399" cy="1359.3" r="5.5" fill="#F6BEC3"/>
<circle cx="3390.7" cy="1419.9" r="5.5" fill="#F6BEC3"/>
<circle cx="3407.4" cy="1425.5" r="5.5" fill="#F6BEC3"/>
<circle cx="3401.8" cy="1435.3" r="5.5" fill="#F6BEC3"/>
<circle cx="3414.4" cy="1461.7" r="5.5" fill="#F6BEC3"/>
<circle cx="3393.5" cy="1468" r="5.5" fill="#F6BEC3"/>
<circle cx="3404.6" cy="1505.7" r="5.5" fill="#F6BEC3"/>
<circle cx="3387.9" cy="1601.9" r="5.5" fill="#F6BEC3"/>
<circle cx="3396.2" cy="1616.5" r="5.5" fill="#F6BEC3"/>
<circle cx="3411.6" cy="1615.1" r="5.5" fill="#F6BEC3"/>
<circle cx="3677.2" cy="1267.3" r="5.5" fill="#F6BEC3"/>
<circle cx="3683.5" cy="1277" r="5.5" fill="#F6BEC3"/>
<circle cx="3672.3" cy="1283.3" r="5.5" fill="#F6BEC3"/>
<circle cx="3677.2" cy="1288.2" r="5.5" fill="#F6BEC3"/>
<circle cx="3677.9" cy="1301.4" r="5.5" fill="#F6BEC3"/>
<circle cx="3677.2" cy="1348.1" r="5.5" fill="#F6BEC3"/>
<circle cx="3672.3" cy="1366.2" r="5.5" fill="#F6BEC3"/>
<circle cx="3680.7" cy="1366.2" r="5.5" fill="#F6BEC3"/>
<circle cx="3686.9" cy="1582.3" r="5.5" fill="#F6BEC3"/>
<circle cx="3691.8" cy="1582.3" r="5.5" fill="#F6BEC3"/>
<circle cx="3676.5" cy="1632.5" r="5.5" fill="#F6BEC3"/>
<circle cx="3668.8" cy="1647.9" r="5.5" fill="#F6BEC3"/>
<circle cx="3663.9" cy="1652.1" r="5.5" fill="#F6BEC3"/>
<circle cx="3683.5" cy="1654.2" r="5.5" fill="#F6BEC3"/>
<circle cx="3953.2" cy="1427.6" r="5.5" fill="#F6BEC3"/>
<circle cx="3942.8" cy="1441.5" r="5.5" fill="#F6BEC3"/>
<circle cx="3960.2" cy="1442.2" r="5.5" fill="#F6BEC3"/>
<circle cx="3955.3" cy="1451.3" r="5.5" fill="#F6BEC3"/>
<circle cx="3967.2" cy="1458.3" r="5.5" fill="#F6BEC3"/>
<circle cx="3947" cy="1475" r="5.5" fill="#F6BEC3"/>
<circle cx="3957.4" cy="1528.7" r="5.5" fill="#F6BEC3"/>
<circle cx="3941.4" cy="1647.2" r="5.5" fill="#F6BEC3"/>
<circle cx="3963" cy="1709.9" r="5.5" fill="#F6BEC3"/>
<circle cx="3968.6" cy="1728.7" r="5.5" fill="#F6BEC3"/>
<circle cx="3951.1" cy="1736.4" r="5.5" fill="#F6BEC3"/>
<circle cx="3944.9" cy="1801.9" r="5.5" fill="#F6BEC3"/>
<circle cx="3959.5" cy="1808.2" r="5.5" fill="#F6BEC3"/>
<circle cx="3217.8" cy="1338.4" r="5.5" fill="#A5D0E6"/>
<circle cx="3223.4" cy="1343.9" r="5.5" fill="#A5D0E6"/>
<circle cx="3219.2" cy="1350.2" r="5.5" fill="#A5D0E6"/>
<circle cx="3213.6" cy="1357.2" r="5.5" fill="#A5D0E6"/>
<circle cx="3229.6" cy="1378.8" r="5.5" fill="#A5D0E6"/>
<circle cx="3219.2" cy="1381.6" r="5.5" fill="#A5D0E6"/>
<circle cx="3226.1" cy="1394.1" r="5.5" fill="#A5D0E6"/>
<circle cx="3222" cy="1400.4" r="5.5" fill="#A5D0E6"/>
<circle cx="3209.4" cy="1408.8" r="5.5" fill="#A5D0E6"/>
<circle cx="3233.8" cy="1589.3" r="5.5" fill="#A5D0E6"/>
<circle cx="3224.1" cy="1620" r="5.5" fill="#A5D0E6"/>
<circle cx="3216.4" cy="1633.9" r="5.5" fill="#A5D0E6"/>
<circle cx="3211.5" cy="1665.3" r="5.5" fill="#A5D0E6"/>
<circle cx="3207.3" cy="1752.4" r="5.5" fill="#A5D0E6"/>
<circle cx="3231.7" cy="1764.3" r="5.5" fill="#A5D0E6"/>
<circle cx="3497.3" cy="1219.2" r="5.5" fill="#A5D0E6"/>
<circle cx="3497.3" cy="1288.9" r="5.5" fill="#A5D0E6"/>
<circle cx="3492.4" cy="1318.8" r="5.5" fill="#A5D0E6"/>
<circle cx="3502.9" cy="1323.7" r="5.5" fill="#A5D0E6"/>
<circle cx="3499.4" cy="1335.6" r="5.5" fill="#A5D0E6"/>
<circle cx="3495.2" cy="1351.6" r="5.5" fill="#A5D0E6"/>
<circle cx="3491" cy="1415.7" r="5.5" fill="#A5D0E6"/>
<circle cx="3497.3" cy="1424.1" r="5.5" fill="#A5D0E6"/>
<circle cx="3484.1" cy="1431.8" r="5.5" fill="#A5D0E6"/>
<circle cx="3507.8" cy="1434.6" r="5.5" fill="#A5D0E6"/>
<circle cx="3504.3" cy="1511.9" r="5.5" fill="#A5D0E6"/>
<circle cx="3494.5" cy="1561.4" r="5.5" fill="#A5D0E6"/>
<circle cx="3487.6" cy="1582.3" r="5.5" fill="#A5D0E6"/>
<circle cx="3510.6" cy="1608.1" r="5.5" fill="#A5D0E6"/>
<circle cx="3500.8" cy="1631.8" r="5.5" fill="#A5D0E6"/>
<circle cx="3774.8" cy="1261" r="5.5" fill="#A5D0E6"/>
<circle cx="3778.3" cy="1273.5" r="5.5" fill="#A5D0E6"/>
<circle cx="3771.3" cy="1277" r="5.5" fill="#A5D0E6"/>
<circle cx="3776.9" cy="1284" r="5.5" fill="#A5D0E6"/>
<circle cx="3778.3" cy="1291" r="5.5" fill="#A5D0E6"/>
<circle cx="3772.7" cy="1303.5" r="5.5" fill="#A5D0E6"/>
<circle cx="3772" cy="1335.6" r="5.5" fill="#A5D0E6"/>
<circle cx="3777.6" cy="1346" r="5.5" fill="#A5D0E6"/>
<circle cx="3786.6" cy="1553.1" r="5.5" fill="#A5D0E6"/>
<circle cx="3767.1" cy="1561.4" r="5.5" fill="#A5D0E6"/>
<circle cx="3762.2" cy="1569.1" r="5.5" fill="#A5D0E6"/>
<circle cx="3772" cy="1587.9" r="5.5" fill="#A5D0E6"/>
<circle cx="3777.6" cy="1603.3" r="5.5" fill="#A5D0E6"/>
<circle cx="3782.4" cy="1613" r="5.5" fill="#A5D0E6"/>
<circle cx="4064.8" cy="1366.2" r="5.5" fill="#A5D0E6"/>
<circle cx="4040.4" cy="1387.9" r="5.5" fill="#A5D0E6"/>
<circle cx="4057.8" cy="1421.3" r="5.5" fill="#A5D0E6"/>
<circle cx="4050.8" cy="1435.3" r="5.5" fill="#A5D0E6"/>
<circle cx="4062" cy="1452.7" r="5.5" fill="#A5D0E6"/>
<circle cx="4045.2" cy="1452.7" r="5.5" fill="#A5D0E6"/>
<circle cx="4043.2" cy="1459" r="5.5" fill="#A5D0E6"/>
<circle cx="4052.9" cy="1457.6" r="5.5" fill="#A5D0E6"/>
<circle cx="4054.3" cy="1521.7" r="5.5" fill="#A5D0E6"/>
<circle cx="4038.3" cy="1581" r="5.5" fill="#A5D0E6"/>
<circle cx="4066.2" cy="1686.9" r="5.5" fill="#A5D0E6"/>
<circle cx="4042.5" cy="1706.4" r="5.5" fill="#A5D0E6"/>
<circle cx="4059.9" cy="1723.9" r="5.5" fill="#A5D0E6"/>
<circle cx="4048.7" cy="1744.8" r="5.5" fill="#A5D0E6"/>
<circle cx="4056.4" cy="1767.1" r="5.5" fill="#A5D0E6"/>
<rect x="3015.3" y="1092" width="1107.7" height="917.7" fill="none" stroke="#000" stroke-width="3.9"/>
<rect x="3852.3" y="1107" width="88.5" height="44.6" fill="#F5A39E" stroke="#EF8585" stroke-width="3" fill-opacity="0.93"/>
<rect x="3852.3" y="1184.3" width="88.5" height="43.1" fill="#9DC1D5" stroke="#62A3CB" stroke-width="3" fill-opacity="0.93"/>
<text class="se" x="3970.8" y="1151.8" font-size="66.7" stroke="#000" stroke-width="0.9">SMX</text>
<text class="se" x="3972.3" y="1227.7" font-size="66.7" stroke="#000" stroke-width="0.9">TC</text>
<text class="se" x="2996" y="1116" text-anchor="end" font-size="66.7" stroke="#000" stroke-width="0.8">10<tspan font-size="44.5" dy="-27.4">2</tspan></text>
<text class="se" x="2996" y="1247.1" text-anchor="end" font-size="66.7" stroke="#000" stroke-width="0.8">10<tspan font-size="44.5" dy="-27.4">1</tspan></text>
<text class="se" x="2996" y="1378.2" text-anchor="end" font-size="66.7" stroke="#000" stroke-width="0.8">10<tspan font-size="44.5" dy="-27.4">0</tspan></text>
<text class="se" x="2996" y="1509.3" text-anchor="end" font-size="66.7" stroke="#000" stroke-width="0.8">10<tspan font-size="44.5" dy="-27.4">-1</tspan></text>
<text class="se" x="2996" y="1640.4" text-anchor="end" font-size="66.7" stroke="#000" stroke-width="0.8">10<tspan font-size="44.5" dy="-27.4">-2</tspan></text>
<text class="se" x="2996" y="1771.5" text-anchor="end" font-size="66.7" stroke="#000" stroke-width="0.8">10<tspan font-size="44.5" dy="-27.4">-3</tspan></text>
<text class="se" x="2996" y="1902.6" text-anchor="end" font-size="66.7" stroke="#000" stroke-width="0.8">10<tspan font-size="44.5" dy="-27.4">-4</tspan></text>
<text class="se" x="2996" y="2033.7" text-anchor="end" font-size="66.7" stroke="#000" stroke-width="0.8">10<tspan font-size="44.5" dy="-27.4">-5</tspan></text>
<text class="se" x="3153" y="2095" font-size="66.7" text-anchor="middle" stroke="#000" stroke-width="0.9">PEN</text>
<text class="se" x="3429.8" y="2095" font-size="66.7" text-anchor="middle" stroke="#000" stroke-width="0.9">SUL</text>
<text class="se" x="3707.2" y="2095" font-size="66.7" text-anchor="middle" stroke="#000" stroke-width="0.9">CHL</text>
<text class="se" x="3984.6" y="2095" font-size="66.7" text-anchor="middle" stroke="#000" stroke-width="0.9">TET</text>
<text class="se" transform="translate(2869,1552) rotate(-90)" font-size="70" text-anchor="middle" stroke="#000" stroke-width="0.8">ARB<tspan font-size="44" dy="19">BA-Anti</tspan><tspan dy="-19">/ARB</tspan><tspan font-size="44" dy="19">B</tspan></text>
</g>
</svg></body></html>
